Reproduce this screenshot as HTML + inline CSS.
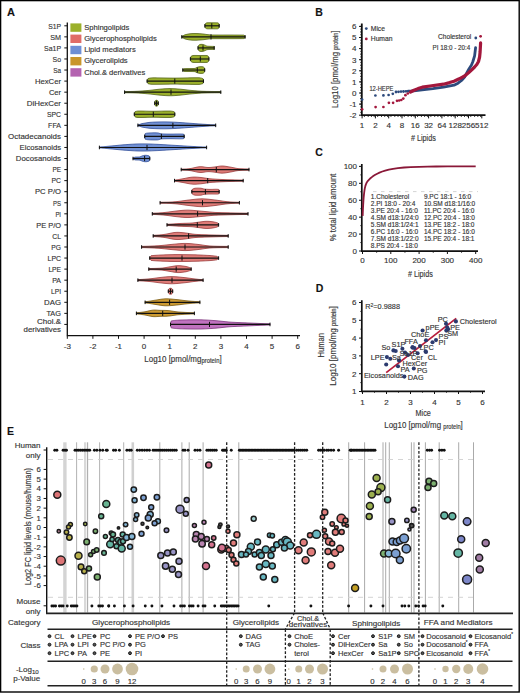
<!DOCTYPE html>
<html><head><meta charset="utf-8"><style>
html,body{margin:0;padding:0;background:#fff;}
svg{display:block;}
text{font-family:"Liberation Sans",sans-serif;stroke:#3a3a3a;stroke-width:0.15px;}
</style></head><body>
<svg width="520" height="693" viewBox="0 0 520 693">
<rect x="0" y="0" width="520" height="693" fill="#fff"/>
<text x="7.00" y="15.60" font-size="11" text-anchor="start" fill="#111" font-weight="bold" >A</text>
<text x="61.00" y="28.55" font-size="8" text-anchor="end" fill="#333"  textLength="12.799999999999999" lengthAdjust="spacingAndGlyphs">S1P</text>
<text x="61.00" y="39.61" font-size="8" text-anchor="end" fill="#333"  textLength="10.799999999999999" lengthAdjust="spacingAndGlyphs">SM</text>
<text x="61.00" y="50.67" font-size="8" text-anchor="end" fill="#333"  textLength="16.900000000000002" lengthAdjust="spacingAndGlyphs">Sa1P</text>
<text x="61.00" y="61.73" font-size="8" text-anchor="end" fill="#333"  textLength="8.5" lengthAdjust="spacingAndGlyphs">So</text>
<text x="61.00" y="72.79" font-size="8" text-anchor="end" fill="#333"  textLength="7.799999999999999" lengthAdjust="spacingAndGlyphs">Sa</text>
<text x="61.00" y="83.85" font-size="8" text-anchor="end" fill="#333"  textLength="26.1" lengthAdjust="spacingAndGlyphs">HexCer</text>
<text x="61.00" y="94.91" font-size="8" text-anchor="end" fill="#333"  textLength="12.1" lengthAdjust="spacingAndGlyphs">Cer</text>
<text x="61.00" y="105.97" font-size="8" text-anchor="end" fill="#333"  textLength="34.2" lengthAdjust="spacingAndGlyphs">DiHexCer</text>
<text x="61.00" y="117.03" font-size="8" text-anchor="end" fill="#333"  textLength="14.0" lengthAdjust="spacingAndGlyphs">SPC</text>
<text x="61.00" y="128.09" font-size="8" text-anchor="end" fill="#333"  textLength="12.9" lengthAdjust="spacingAndGlyphs">FFA</text>
<text x="61.00" y="139.15" font-size="8" text-anchor="end" fill="#333"  textLength="52.9" lengthAdjust="spacingAndGlyphs">Octadecanoids</text>
<text x="61.00" y="150.21" font-size="8" text-anchor="end" fill="#333"  textLength="41.4" lengthAdjust="spacingAndGlyphs">Eicosanoids</text>
<text x="61.00" y="161.27" font-size="8" text-anchor="end" fill="#333"  textLength="45.2" lengthAdjust="spacingAndGlyphs">Docosanoids</text>
<text x="61.00" y="172.33" font-size="8" text-anchor="end" fill="#333"  textLength="8.6" lengthAdjust="spacingAndGlyphs">PE</text>
<text x="61.00" y="183.39" font-size="8" text-anchor="end" fill="#333"  textLength="9.5" lengthAdjust="spacingAndGlyphs">PC</text>
<text x="61.00" y="194.45" font-size="8" text-anchor="end" fill="#333"  textLength="26.0" lengthAdjust="spacingAndGlyphs">PC P/O</text>
<text x="61.00" y="205.51" font-size="8" text-anchor="end" fill="#333"  textLength="8.0" lengthAdjust="spacingAndGlyphs">PS</text>
<text x="61.00" y="216.57" font-size="8" text-anchor="end" fill="#333"  textLength="5.6" lengthAdjust="spacingAndGlyphs">PI</text>
<text x="61.00" y="227.63" font-size="8" text-anchor="end" fill="#333"  textLength="24.700000000000003" lengthAdjust="spacingAndGlyphs">PE P/O</text>
<text x="61.00" y="238.69" font-size="8" text-anchor="end" fill="#333"  textLength="8.7" lengthAdjust="spacingAndGlyphs">CL</text>
<text x="61.00" y="249.75" font-size="8" text-anchor="end" fill="#333"  textLength="9.7" lengthAdjust="spacingAndGlyphs">PG</text>
<text x="61.00" y="260.81" font-size="8" text-anchor="end" fill="#333"  textLength="13.4" lengthAdjust="spacingAndGlyphs">LPC</text>
<text x="61.00" y="271.87" font-size="8" text-anchor="end" fill="#333"  textLength="12.6" lengthAdjust="spacingAndGlyphs">LPE</text>
<text x="61.00" y="282.93" font-size="8" text-anchor="end" fill="#333"  textLength="8.799999999999999" lengthAdjust="spacingAndGlyphs">PA</text>
<text x="61.00" y="293.99" font-size="8" text-anchor="end" fill="#333"  textLength="10.0" lengthAdjust="spacingAndGlyphs">LPI</text>
<text x="61.00" y="305.05" font-size="8" text-anchor="end" fill="#333"  textLength="16.900000000000002" lengthAdjust="spacingAndGlyphs">DAG</text>
<text x="61.00" y="316.11" font-size="8" text-anchor="end" fill="#333"  textLength="14.6" lengthAdjust="spacingAndGlyphs">TAG</text>
<text x="61.00" y="324.30" font-size="7.6" text-anchor="end" fill="#333"  textLength="24.0" lengthAdjust="spacingAndGlyphs">Chol.&amp;</text>
<text x="61.00" y="331.50" font-size="7.6" text-anchor="end" fill="#333"  textLength="37.4" lengthAdjust="spacingAndGlyphs">derivatives</text>
<path d="M67.3 22.5 V335.7 H300" fill="none" stroke="#111" stroke-width="1.3"/>
<line x1="64.3" y1="25.80" x2="67.3" y2="25.80" stroke="#111" stroke-width="1"/>
<line x1="64.3" y1="36.86" x2="67.3" y2="36.86" stroke="#111" stroke-width="1"/>
<line x1="64.3" y1="47.92" x2="67.3" y2="47.92" stroke="#111" stroke-width="1"/>
<line x1="64.3" y1="58.98" x2="67.3" y2="58.98" stroke="#111" stroke-width="1"/>
<line x1="64.3" y1="70.04" x2="67.3" y2="70.04" stroke="#111" stroke-width="1"/>
<line x1="64.3" y1="81.10" x2="67.3" y2="81.10" stroke="#111" stroke-width="1"/>
<line x1="64.3" y1="92.16" x2="67.3" y2="92.16" stroke="#111" stroke-width="1"/>
<line x1="64.3" y1="103.22" x2="67.3" y2="103.22" stroke="#111" stroke-width="1"/>
<line x1="64.3" y1="114.28" x2="67.3" y2="114.28" stroke="#111" stroke-width="1"/>
<line x1="64.3" y1="125.34" x2="67.3" y2="125.34" stroke="#111" stroke-width="1"/>
<line x1="64.3" y1="136.40" x2="67.3" y2="136.40" stroke="#111" stroke-width="1"/>
<line x1="64.3" y1="147.46" x2="67.3" y2="147.46" stroke="#111" stroke-width="1"/>
<line x1="64.3" y1="158.52" x2="67.3" y2="158.52" stroke="#111" stroke-width="1"/>
<line x1="64.3" y1="169.58" x2="67.3" y2="169.58" stroke="#111" stroke-width="1"/>
<line x1="64.3" y1="180.64" x2="67.3" y2="180.64" stroke="#111" stroke-width="1"/>
<line x1="64.3" y1="191.70" x2="67.3" y2="191.70" stroke="#111" stroke-width="1"/>
<line x1="64.3" y1="202.76" x2="67.3" y2="202.76" stroke="#111" stroke-width="1"/>
<line x1="64.3" y1="213.82" x2="67.3" y2="213.82" stroke="#111" stroke-width="1"/>
<line x1="64.3" y1="224.88" x2="67.3" y2="224.88" stroke="#111" stroke-width="1"/>
<line x1="64.3" y1="235.94" x2="67.3" y2="235.94" stroke="#111" stroke-width="1"/>
<line x1="64.3" y1="247.00" x2="67.3" y2="247.00" stroke="#111" stroke-width="1"/>
<line x1="64.3" y1="258.06" x2="67.3" y2="258.06" stroke="#111" stroke-width="1"/>
<line x1="64.3" y1="269.12" x2="67.3" y2="269.12" stroke="#111" stroke-width="1"/>
<line x1="64.3" y1="280.18" x2="67.3" y2="280.18" stroke="#111" stroke-width="1"/>
<line x1="64.3" y1="291.24" x2="67.3" y2="291.24" stroke="#111" stroke-width="1"/>
<line x1="64.3" y1="302.30" x2="67.3" y2="302.30" stroke="#111" stroke-width="1"/>
<line x1="64.3" y1="313.36" x2="67.3" y2="313.36" stroke="#111" stroke-width="1"/>
<line x1="64.3" y1="324.42" x2="67.3" y2="324.42" stroke="#111" stroke-width="1"/>
<line x1="67.30" y1="335.7" x2="67.30" y2="338.8" stroke="#111" stroke-width="1"/>
<text x="67.30" y="349.20" font-size="8" text-anchor="middle" fill="#333" >-3</text>
<line x1="92.90" y1="335.7" x2="92.90" y2="338.8" stroke="#111" stroke-width="1"/>
<text x="92.90" y="349.20" font-size="8" text-anchor="middle" fill="#333" >-2</text>
<line x1="118.50" y1="335.7" x2="118.50" y2="338.8" stroke="#111" stroke-width="1"/>
<text x="118.50" y="349.20" font-size="8" text-anchor="middle" fill="#333" >-1</text>
<line x1="144.10" y1="335.7" x2="144.10" y2="338.8" stroke="#111" stroke-width="1"/>
<text x="144.10" y="349.20" font-size="8" text-anchor="middle" fill="#333" >0</text>
<line x1="169.70" y1="335.7" x2="169.70" y2="338.8" stroke="#111" stroke-width="1"/>
<text x="169.70" y="349.20" font-size="8" text-anchor="middle" fill="#333" >1</text>
<line x1="195.30" y1="335.7" x2="195.30" y2="338.8" stroke="#111" stroke-width="1"/>
<text x="195.30" y="349.20" font-size="8" text-anchor="middle" fill="#333" >2</text>
<line x1="220.90" y1="335.7" x2="220.90" y2="338.8" stroke="#111" stroke-width="1"/>
<text x="220.90" y="349.20" font-size="8" text-anchor="middle" fill="#333" >3</text>
<line x1="246.50" y1="335.7" x2="246.50" y2="338.8" stroke="#111" stroke-width="1"/>
<text x="246.50" y="349.20" font-size="8" text-anchor="middle" fill="#333" >4</text>
<line x1="272.10" y1="335.7" x2="272.10" y2="338.8" stroke="#111" stroke-width="1"/>
<text x="272.10" y="349.20" font-size="8" text-anchor="middle" fill="#333" >5</text>
<line x1="297.70" y1="335.7" x2="297.70" y2="338.8" stroke="#111" stroke-width="1"/>
<text x="297.70" y="349.20" font-size="8" text-anchor="middle" fill="#333" >6</text>
<text x="144.3" y="361.5" font-size="8.5" fill="#333" textLength="77.4" lengthAdjust="spacingAndGlyphs">Log10 [pmol/mg<tspan font-size="6.3" dy="1.2">protein</tspan><tspan dy="-1.2">]</tspan></text>
<rect x="70.4" y="23.40" width="11" height="8.4" fill="#9bb02a"/>
<text x="84.20" y="29.70" font-size="7.6" text-anchor="start" fill="#333" >Sphingolipids</text>
<rect x="70.4" y="34.60" width="11" height="8.4" fill="#e06c68"/>
<text x="84.20" y="40.90" font-size="7.6" text-anchor="start" fill="#333" >Glycerophospholipids</text>
<rect x="70.4" y="45.80" width="11" height="8.4" fill="#6e8fd6"/>
<text x="84.20" y="52.10" font-size="7.6" text-anchor="start" fill="#333" >Lipid mediators</text>
<rect x="70.4" y="57.00" width="11" height="8.4" fill="#c9962c"/>
<text x="84.20" y="63.30" font-size="7.6" text-anchor="start" fill="#333" >Glycerolipids</text>
<rect x="70.4" y="68.20" width="11" height="8.4" fill="#b463b0"/>
<text x="84.20" y="74.50" font-size="7.6" text-anchor="start" fill="#333" >Chol.&amp; derivatives</text>
<polygon points="204.90,25.30 205.20,24.44 205.50,23.50 206.25,23.04 207.00,22.81 208.00,22.77 209.00,22.76 210.00,22.78 211.00,22.80 212.00,22.81 213.10,22.80 214.20,22.78 215.30,22.76 216.40,22.77 217.50,22.81 218.15,23.04 218.80,23.50 219.00,24.44 219.20,25.30 219.20,26.30 219.00,27.16 218.80,28.10 218.15,28.56 217.50,28.79 216.40,28.83 215.30,28.84 214.20,28.82 213.10,28.80 212.00,28.79 211.00,28.80 210.00,28.82 209.00,28.84 208.00,28.83 207.00,28.79 206.25,28.56 205.50,28.10 205.20,27.16 204.90,26.30" fill="#9bb02a" stroke="#55661a" stroke-width="0.8"/>
<line x1="204.9" y1="25.80" x2="219.2" y2="25.80" stroke="#111" stroke-width="1.15"/>
<line x1="204.9" y1="24.00" x2="204.9" y2="27.60" stroke="#111" stroke-width="1"/>
<line x1="219.2" y1="24.00" x2="219.2" y2="27.60" stroke="#111" stroke-width="1"/>
<line x1="211.8" y1="23.20" x2="211.8" y2="28.40" stroke="#111" stroke-width="1"/>
<polygon points="181.80,36.26 182.87,35.86 183.93,35.30 185.00,34.79 186.00,34.54 187.00,34.31 188.00,34.09 189.00,33.90 190.00,33.76 191.00,33.66 192.00,33.59 193.00,33.55 194.00,33.52 195.00,33.51 196.00,33.52 197.00,33.55 198.00,33.60 199.00,33.66 200.00,33.74 201.00,33.82 202.00,33.90 203.00,33.98 204.00,34.11 205.00,34.26 206.00,34.41 207.00,34.56 208.00,34.67 209.00,34.79 210.00,34.88 211.00,34.96 212.00,35.02 213.00,35.03 214.00,35.03 215.00,35.04 216.00,35.04 217.00,35.04 218.00,35.04 219.00,35.05 220.00,35.05 221.00,35.05 222.00,35.05 223.00,35.05 224.00,35.04 225.00,35.04 226.00,35.04 227.00,35.04 228.00,35.04 229.00,35.04 230.00,35.04 231.00,35.04 232.00,35.04 233.00,35.04 234.00,35.05 235.00,35.05 236.00,35.05 237.00,35.06 238.00,35.07 239.00,35.07 240.00,35.08 241.00,35.09 242.00,35.11 243.00,35.12 244.00,35.13 244.55,35.60 245.10,36.06 245.10,37.66 244.55,38.12 244.00,38.59 243.00,38.60 242.00,38.61 241.00,38.63 240.00,38.64 239.00,38.65 238.00,38.65 237.00,38.66 236.00,38.67 235.00,38.67 234.00,38.67 233.00,38.68 232.00,38.68 231.00,38.68 230.00,38.68 229.00,38.68 228.00,38.68 227.00,38.68 226.00,38.68 225.00,38.68 224.00,38.68 223.00,38.67 222.00,38.67 221.00,38.67 220.00,38.67 219.00,38.67 218.00,38.68 217.00,38.68 216.00,38.68 215.00,38.68 214.00,38.69 213.00,38.69 212.00,38.70 211.00,38.76 210.00,38.84 209.00,38.93 208.00,39.05 207.00,39.16 206.00,39.31 205.00,39.46 204.00,39.61 203.00,39.73 202.00,39.82 201.00,39.90 200.00,39.98 199.00,40.06 198.00,40.12 197.00,40.17 196.00,40.20 195.00,40.21 194.00,40.20 193.00,40.17 192.00,40.13 191.00,40.06 190.00,39.96 189.00,39.82 188.00,39.63 187.00,39.41 186.00,39.18 185.00,38.93 183.93,38.42 182.87,37.86 181.80,37.46" fill="#9bb02a" stroke="#55661a" stroke-width="0.8"/>
<line x1="181.8" y1="36.86" x2="245.1" y2="36.86" stroke="#111" stroke-width="1.15"/>
<line x1="181.8" y1="35.06" x2="181.8" y2="38.66" stroke="#111" stroke-width="1"/>
<line x1="245.1" y1="35.06" x2="245.1" y2="38.66" stroke="#111" stroke-width="1"/>
<line x1="211" y1="34.26" x2="211" y2="39.46" stroke="#111" stroke-width="1"/>
<polygon points="198.00,47.42 198.30,46.46 198.60,45.39 199.30,44.80 200.00,44.47 201.00,44.37 202.00,44.37 203.00,44.47 204.25,44.88 205.50,45.39 206.25,45.84 207.00,46.20 208.03,46.26 209.06,46.31 210.09,46.35 211.11,46.37 212.14,46.39 213.17,46.41 214.20,46.43 214.20,49.41 213.17,49.43 212.14,49.45 211.11,49.47 210.09,49.49 209.06,49.53 208.03,49.58 207.00,49.65 206.25,50.00 205.50,50.45 204.25,50.96 203.00,51.37 202.00,51.47 201.00,51.47 200.00,51.37 199.30,51.04 198.60,50.45 198.30,49.38 198.00,48.42" fill="#9bb02a" stroke="#55661a" stroke-width="0.8"/>
<line x1="198" y1="47.92" x2="214.2" y2="47.92" stroke="#111" stroke-width="1.15"/>
<line x1="198" y1="46.12" x2="198" y2="49.72" stroke="#111" stroke-width="1"/>
<line x1="214.2" y1="46.12" x2="214.2" y2="49.72" stroke="#111" stroke-width="1"/>
<line x1="203" y1="45.32" x2="203" y2="50.52" stroke="#111" stroke-width="1"/>
<polygon points="190.40,58.48 190.70,57.52 191.00,56.45 192.00,55.86 193.00,55.53 194.00,55.48 195.00,55.46 196.00,55.47 197.00,55.48 198.00,55.50 199.00,55.52 200.00,55.53 201.00,55.52 202.00,55.50 203.00,55.48 204.00,55.47 205.00,55.46 206.00,55.48 207.00,55.53 207.75,55.86 208.50,56.45 208.70,57.52 208.90,58.48 208.90,59.48 208.70,60.44 208.50,61.51 207.75,62.10 207.00,62.43 206.00,62.48 205.00,62.50 204.00,62.49 203.00,62.48 202.00,62.46 201.00,62.44 200.00,62.43 199.00,62.44 198.00,62.46 197.00,62.48 196.00,62.49 195.00,62.50 194.00,62.48 193.00,62.43 192.00,62.10 191.00,61.51 190.70,60.44 190.40,59.48" fill="#9bb02a" stroke="#55661a" stroke-width="0.8"/>
<line x1="190.4" y1="58.98" x2="208.9" y2="58.98" stroke="#111" stroke-width="1.15"/>
<line x1="190.4" y1="57.18" x2="190.4" y2="60.78" stroke="#111" stroke-width="1"/>
<line x1="208.9" y1="57.18" x2="208.9" y2="60.78" stroke="#111" stroke-width="1"/>
<line x1="200.3" y1="56.38" x2="200.3" y2="61.58" stroke="#111" stroke-width="1"/>
<polygon points="182.80,69.24 183.40,68.96 184.00,68.66 185.00,68.63 186.00,68.61 187.00,68.59 188.00,68.58 189.00,68.58 190.00,68.57 191.00,68.56 192.00,68.54 193.00,68.52 194.00,68.48 195.00,68.43 196.00,67.94 197.00,67.40 198.00,67.11 199.00,66.86 200.00,66.71 201.00,66.65 202.00,66.69 203.00,66.82 203.65,67.17 204.30,67.74 204.50,68.70 204.70,69.54 204.70,70.54 204.50,71.38 204.30,72.34 203.65,72.91 203.00,73.26 202.00,73.39 201.00,73.43 200.00,73.38 199.00,73.22 198.00,72.97 197.00,72.69 196.00,72.14 195.00,71.65 194.00,71.60 193.00,71.56 192.00,71.54 191.00,71.52 190.00,71.51 189.00,71.50 188.00,71.50 187.00,71.49 186.00,71.47 185.00,71.45 184.00,71.42 183.40,71.12 182.80,70.84" fill="#9bb02a" stroke="#55661a" stroke-width="0.8"/>
<line x1="182.8" y1="70.04" x2="204.7" y2="70.04" stroke="#111" stroke-width="1.15"/>
<line x1="182.8" y1="68.24" x2="182.8" y2="71.84" stroke="#111" stroke-width="1"/>
<line x1="204.7" y1="68.24" x2="204.7" y2="71.84" stroke="#111" stroke-width="1"/>
<line x1="197.3" y1="67.44" x2="197.3" y2="72.64" stroke="#111" stroke-width="1"/>
<polygon points="147.10,80.60 147.55,79.63 148.00,78.57 149.00,78.28 150.00,78.08 151.00,77.96 152.00,77.88 153.00,77.87 154.00,77.87 155.00,77.87 156.00,77.87 157.00,77.88 158.00,77.89 159.00,77.90 160.00,77.91 161.00,77.93 162.00,77.95 163.00,77.96 164.00,77.98 165.00,78.00 166.00,78.02 167.00,78.04 168.00,78.05 169.00,78.07 170.00,78.08 171.00,78.09 172.00,78.10 173.00,78.11 174.00,78.11 175.00,78.11 176.00,78.11 177.00,78.10 178.00,78.09 179.00,78.07 180.00,78.06 181.00,78.04 182.00,78.02 183.00,78.00 184.00,77.97 185.00,77.95 186.00,77.93 187.00,77.90 188.00,77.88 189.00,77.86 190.00,77.84 191.00,77.82 192.00,77.80 193.00,77.78 194.00,77.77 195.00,77.76 196.00,77.76 197.00,77.76 198.00,77.76 199.00,77.77 200.27,77.90 201.53,78.17 202.80,78.57 203.15,79.64 203.50,80.60 203.50,81.60 203.15,82.56 202.80,83.63 201.53,84.03 200.27,84.30 199.00,84.44 198.00,84.44 197.00,84.44 196.00,84.44 195.00,84.44 194.00,84.43 193.00,84.42 192.00,84.40 191.00,84.38 190.00,84.36 189.00,84.34 188.00,84.32 187.00,84.30 186.00,84.27 185.00,84.25 184.00,84.23 183.00,84.21 182.00,84.18 181.00,84.16 180.00,84.14 179.00,84.13 178.00,84.11 177.00,84.10 176.00,84.09 175.00,84.09 174.00,84.09 173.00,84.09 172.00,84.10 171.00,84.11 170.00,84.12 169.00,84.13 168.00,84.15 167.00,84.16 166.00,84.18 165.00,84.20 164.00,84.22 163.00,84.24 162.00,84.25 161.00,84.27 160.00,84.29 159.00,84.30 158.00,84.31 157.00,84.32 156.00,84.33 155.00,84.33 154.00,84.33 153.00,84.33 152.00,84.32 151.00,84.24 150.00,84.12 149.00,83.92 148.00,83.63 147.55,82.57 147.10,81.60" fill="#9bb02a" stroke="#55661a" stroke-width="0.8"/>
<line x1="147.1" y1="81.10" x2="203.5" y2="81.10" stroke="#111" stroke-width="1.15"/>
<line x1="147.1" y1="79.30" x2="147.1" y2="82.90" stroke="#111" stroke-width="1"/>
<line x1="203.5" y1="79.30" x2="203.5" y2="82.90" stroke="#111" stroke-width="1"/>
<line x1="174.8" y1="78.50" x2="174.8" y2="83.70" stroke="#111" stroke-width="1"/>
<polygon points="124.60,91.56 125.63,91.55 126.66,91.54 127.69,91.52 128.72,91.51 129.75,91.50 130.78,91.48 131.82,91.46 132.85,91.44 133.88,91.41 134.91,91.38 135.94,91.34 136.97,91.30 138.00,91.26 139.00,91.20 140.00,91.14 141.00,91.07 142.00,91.00 143.00,90.92 144.00,90.84 145.00,90.76 146.00,90.67 147.00,90.58 148.00,90.50 149.00,90.41 150.00,90.32 151.00,90.21 152.00,90.09 153.00,89.97 154.00,89.85 155.00,89.72 156.00,89.60 157.00,89.48 158.00,89.37 159.00,89.26 160.00,89.17 161.00,89.08 162.00,89.00 163.00,88.92 164.00,88.84 165.00,88.77 166.00,88.71 167.00,88.66 168.00,88.63 169.00,88.60 170.00,88.59 171.00,88.60 172.00,88.63 173.00,88.66 174.00,88.71 175.00,88.77 176.00,88.84 177.00,88.92 178.00,89.00 179.00,89.08 180.00,89.17 181.00,89.26 182.00,89.37 183.00,89.48 184.00,89.60 185.00,89.72 186.00,89.85 187.00,89.97 188.00,90.09 189.00,90.21 190.00,90.32 191.00,90.41 192.00,90.50 193.00,90.58 194.00,90.67 195.00,90.76 196.00,90.84 197.00,90.92 198.00,91.00 199.00,91.07 200.00,91.14 201.00,91.20 202.00,91.26 203.04,91.29 204.09,91.32 205.13,91.35 206.18,91.38 207.22,91.40 208.27,91.42 209.31,91.44 210.36,91.45 211.40,91.47 212.44,91.48 213.49,91.49 214.53,91.51 215.58,91.52 216.62,91.53 217.67,91.53 218.71,91.54 219.76,91.55 220.80,91.56 220.80,92.76 219.76,92.77 218.71,92.78 217.67,92.79 216.62,92.79 215.58,92.80 214.53,92.81 213.49,92.83 212.44,92.84 211.40,92.85 210.36,92.87 209.31,92.88 208.27,92.90 207.22,92.92 206.18,92.94 205.13,92.97 204.09,93.00 203.04,93.03 202.00,93.06 201.00,93.12 200.00,93.18 199.00,93.25 198.00,93.32 197.00,93.40 196.00,93.48 195.00,93.56 194.00,93.65 193.00,93.74 192.00,93.82 191.00,93.91 190.00,94.00 189.00,94.11 188.00,94.23 187.00,94.35 186.00,94.47 185.00,94.60 184.00,94.72 183.00,94.84 182.00,94.95 181.00,95.06 180.00,95.15 179.00,95.24 178.00,95.32 177.00,95.40 176.00,95.48 175.00,95.55 174.00,95.61 173.00,95.66 172.00,95.69 171.00,95.72 170.00,95.72 169.00,95.72 168.00,95.69 167.00,95.66 166.00,95.61 165.00,95.55 164.00,95.48 163.00,95.40 162.00,95.32 161.00,95.24 160.00,95.15 159.00,95.06 158.00,94.95 157.00,94.84 156.00,94.72 155.00,94.60 154.00,94.47 153.00,94.35 152.00,94.23 151.00,94.11 150.00,94.00 149.00,93.91 148.00,93.82 147.00,93.74 146.00,93.65 145.00,93.56 144.00,93.48 143.00,93.40 142.00,93.32 141.00,93.25 140.00,93.18 139.00,93.12 138.00,93.06 136.97,93.02 135.94,92.98 134.91,92.94 133.88,92.91 132.85,92.88 131.82,92.86 130.78,92.84 129.75,92.82 128.72,92.81 127.69,92.80 126.66,92.78 125.63,92.77 124.60,92.76" fill="#9bb02a" stroke="#55661a" stroke-width="0.8"/>
<line x1="124.6" y1="92.16" x2="220.8" y2="92.16" stroke="#111" stroke-width="1.15"/>
<line x1="124.6" y1="90.36" x2="124.6" y2="93.96" stroke="#111" stroke-width="1"/>
<line x1="220.8" y1="90.36" x2="220.8" y2="93.96" stroke="#111" stroke-width="1"/>
<line x1="171" y1="89.56" x2="171" y2="94.76" stroke="#111" stroke-width="1"/>
<polygon points="154.70,102.72 155.00,101.73 155.30,100.69 155.90,100.30 156.50,100.23 157.10,100.30 157.70,100.69 158.00,101.73 158.30,102.72 158.30,103.72 158.00,104.71 157.70,105.75 157.10,106.14 156.50,106.21 155.90,106.14 155.30,105.75 155.00,104.71 154.70,103.72" fill="#9bb02a" stroke="#55661a" stroke-width="0.8"/>
<line x1="154.7" y1="103.22" x2="158.3" y2="103.22" stroke="#111" stroke-width="1.15"/>
<line x1="154.7" y1="101.42" x2="154.7" y2="105.02" stroke="#111" stroke-width="1"/>
<line x1="158.3" y1="101.42" x2="158.3" y2="105.02" stroke="#111" stroke-width="1"/>
<line x1="156.5" y1="100.62" x2="156.5" y2="105.82" stroke="#111" stroke-width="1"/>
<polygon points="134.30,113.78 134.65,112.81 135.00,111.75 136.00,111.39 137.00,111.17 138.00,111.06 139.00,111.05 140.00,111.05 141.00,111.05 142.00,111.07 143.00,111.09 144.00,111.11 145.00,111.13 146.00,111.16 147.00,111.19 148.00,111.21 149.00,111.24 150.00,111.26 151.00,111.28 152.00,111.29 153.00,111.29 154.00,111.29 155.00,111.28 156.00,111.27 157.00,111.25 158.00,111.23 159.00,111.21 160.00,111.18 161.00,111.16 162.00,111.13 163.00,111.11 164.00,111.09 165.00,111.07 166.00,111.06 167.00,111.05 168.00,111.05 169.00,111.05 170.00,111.06 171.05,111.14 172.10,111.26 173.15,111.46 174.20,111.75 174.50,112.81 174.80,113.78 174.80,114.78 174.50,115.75 174.20,116.81 173.15,117.10 172.10,117.30 171.05,117.42 170.00,117.50 169.00,117.51 168.00,117.51 167.00,117.51 166.00,117.50 165.00,117.49 164.00,117.47 163.00,117.45 162.00,117.43 161.00,117.40 160.00,117.38 159.00,117.35 158.00,117.33 157.00,117.31 156.00,117.29 155.00,117.28 154.00,117.27 153.00,117.27 152.00,117.27 151.00,117.28 150.00,117.30 149.00,117.32 148.00,117.35 147.00,117.37 146.00,117.40 145.00,117.43 144.00,117.45 143.00,117.47 142.00,117.49 141.00,117.51 140.00,117.51 139.00,117.51 138.00,117.50 137.00,117.39 136.00,117.17 135.00,116.81 134.65,115.75 134.30,114.78" fill="#9bb02a" stroke="#55661a" stroke-width="0.8"/>
<line x1="134.3" y1="114.28" x2="174.8" y2="114.28" stroke="#111" stroke-width="1.15"/>
<line x1="134.3" y1="112.48" x2="134.3" y2="116.08" stroke="#111" stroke-width="1"/>
<line x1="174.8" y1="112.48" x2="174.8" y2="116.08" stroke="#111" stroke-width="1"/>
<line x1="153.3" y1="111.68" x2="153.3" y2="116.88" stroke="#111" stroke-width="1"/>
<polygon points="137.90,124.84 138.93,124.62 139.95,124.31 140.97,123.95 142.00,123.62 143.00,123.45 144.00,123.28 145.00,123.11 146.00,122.93 147.00,122.77 148.00,122.61 149.00,122.47 150.00,122.35 151.00,122.29 152.00,122.23 153.00,122.17 154.00,122.12 155.00,122.08 156.00,122.04 157.00,122.00 158.00,121.97 159.00,121.95 160.00,121.92 161.00,121.91 162.00,121.90 163.00,121.89 164.00,121.89 165.00,121.89 166.00,121.90 167.00,121.92 168.00,121.94 169.00,121.97 170.00,122.00 171.00,122.04 172.00,122.08 173.00,122.13 174.00,122.18 175.00,122.23 176.00,122.28 177.00,122.34 178.00,122.40 179.00,122.46 180.00,122.53 181.00,122.60 182.00,122.67 183.00,122.74 184.00,122.82 185.00,122.90 186.00,122.97 187.00,123.05 188.00,123.12 189.00,123.20 190.00,123.27 191.00,123.34 192.00,123.42 193.00,123.49 194.00,123.57 195.00,123.65 196.00,123.72 197.00,123.80 198.00,123.88 199.00,123.95 200.00,124.02 201.00,124.09 202.00,124.16 203.00,124.23 204.00,124.29 205.00,124.34 206.07,124.42 207.14,124.48 208.21,124.55 209.28,124.61 210.35,124.66 211.42,124.70 212.49,124.74 213.56,124.78 214.63,124.81 215.70,124.84 215.70,125.84 214.63,125.87 213.56,125.90 212.49,125.94 211.42,125.98 210.35,126.02 209.28,126.07 208.21,126.13 207.14,126.20 206.07,126.26 205.00,126.34 204.00,126.39 203.00,126.45 202.00,126.52 201.00,126.59 200.00,126.66 199.00,126.73 198.00,126.80 197.00,126.88 196.00,126.96 195.00,127.03 194.00,127.11 193.00,127.19 192.00,127.26 191.00,127.34 190.00,127.41 189.00,127.48 188.00,127.56 187.00,127.63 186.00,127.71 185.00,127.78 184.00,127.86 183.00,127.94 182.00,128.01 181.00,128.08 180.00,128.15 179.00,128.22 178.00,128.28 177.00,128.34 176.00,128.40 175.00,128.44 174.00,128.50 173.00,128.55 172.00,128.60 171.00,128.64 170.00,128.68 169.00,128.71 168.00,128.74 167.00,128.76 166.00,128.78 165.00,128.79 164.00,128.79 163.00,128.79 162.00,128.78 161.00,128.77 160.00,128.76 159.00,128.73 158.00,128.71 157.00,128.68 156.00,128.64 155.00,128.60 154.00,128.56 153.00,128.51 152.00,128.45 151.00,128.39 150.00,128.33 149.00,128.21 148.00,128.07 147.00,127.91 146.00,127.75 145.00,127.57 144.00,127.40 143.00,127.23 142.00,127.06 140.97,126.73 139.95,126.37 138.93,126.06 137.90,125.84" fill="#7090d4" stroke="#34509a" stroke-width="0.8"/>
<line x1="137.9" y1="125.34" x2="215.7" y2="125.34" stroke="#111" stroke-width="1.15"/>
<line x1="137.9" y1="123.54" x2="137.9" y2="127.14" stroke="#111" stroke-width="1"/>
<line x1="215.7" y1="123.54" x2="215.7" y2="127.14" stroke="#111" stroke-width="1"/>
<line x1="172.9" y1="122.74" x2="172.9" y2="127.94" stroke="#111" stroke-width="1"/>
<polygon points="144.70,135.90 145.00,134.75 145.30,133.53 146.48,133.24 147.65,133.09 148.82,133.01 150.00,132.95 151.00,132.92 152.00,132.89 153.00,132.87 154.00,132.86 155.00,132.86 156.00,132.87 157.00,132.90 158.00,132.95 159.00,133.21 160.00,133.58 161.00,133.87 162.00,133.93 163.00,133.97 164.00,134.01 165.00,134.03 166.00,134.05 167.00,134.07 168.00,134.08 169.00,134.09 170.00,134.10 171.04,134.10 172.08,134.09 173.12,134.08 174.15,134.06 175.19,134.03 176.23,134.01 177.27,133.99 178.31,133.98 179.35,133.97 180.38,133.98 181.42,134.00 182.46,134.04 183.50,134.10 183.85,135.00 184.20,135.90 184.20,136.90 183.85,137.80 183.50,138.70 182.46,138.76 181.42,138.80 180.38,138.82 179.35,138.83 178.31,138.82 177.27,138.81 176.23,138.79 175.19,138.77 174.15,138.74 173.12,138.72 172.08,138.71 171.04,138.70 170.00,138.70 169.00,138.71 168.00,138.72 167.00,138.73 166.00,138.75 165.00,138.77 164.00,138.79 163.00,138.83 162.00,138.87 161.00,138.93 160.00,139.22 159.00,139.59 158.00,139.85 157.00,139.90 156.00,139.93 155.00,139.94 154.00,139.94 153.00,139.93 152.00,139.91 151.00,139.88 150.00,139.85 148.82,139.79 147.65,139.71 146.48,139.56 145.30,139.28 145.00,138.05 144.70,136.90" fill="#7090d4" stroke="#34509a" stroke-width="0.8"/>
<line x1="144.7" y1="136.40" x2="184.2" y2="136.40" stroke="#111" stroke-width="1.15"/>
<line x1="144.7" y1="134.60" x2="144.7" y2="138.20" stroke="#111" stroke-width="1"/>
<line x1="184.2" y1="134.60" x2="184.2" y2="138.20" stroke="#111" stroke-width="1"/>
<line x1="161.4" y1="133.80" x2="161.4" y2="139.00" stroke="#111" stroke-width="1"/>
<polygon points="99.40,146.96 100.46,146.91 101.52,146.85 102.58,146.78 103.64,146.70 104.70,146.61 105.76,146.51 106.82,146.41 107.88,146.30 108.94,146.19 110.00,146.08 111.00,146.00 112.00,145.92 113.00,145.83 114.00,145.73 115.00,145.64 116.00,145.54 117.00,145.44 118.00,145.33 119.00,145.23 120.00,145.14 121.00,145.04 122.00,144.95 123.00,144.86 124.00,144.78 125.00,144.70 126.00,144.63 127.00,144.56 128.00,144.48 129.00,144.41 130.00,144.35 131.00,144.28 132.00,144.22 133.00,144.16 134.00,144.11 135.00,144.06 136.00,144.01 137.00,143.97 138.00,143.94 139.00,143.91 140.00,143.90 141.00,143.88 142.00,143.88 143.00,143.88 144.00,143.88 145.00,143.90 146.00,143.91 147.00,143.93 148.00,143.96 149.00,143.99 150.00,144.02 151.00,144.06 152.00,144.10 153.00,144.14 154.00,144.19 155.00,144.24 156.00,144.28 157.00,144.32 158.00,144.37 159.00,144.42 160.00,144.47 161.00,144.53 162.00,144.58 163.00,144.64 164.00,144.70 165.00,144.76 166.00,144.83 167.00,144.89 168.00,144.95 169.00,145.02 170.00,145.08 171.00,145.15 172.00,145.21 173.00,145.27 174.00,145.33 175.00,145.39 176.00,145.45 177.00,145.51 178.00,145.57 179.00,145.64 180.00,145.70 181.00,145.76 182.00,145.83 183.00,145.89 184.00,145.96 185.00,146.02 186.00,146.08 187.00,146.15 188.00,146.21 189.00,146.26 190.00,146.32 191.00,146.37 192.00,146.43 193.00,146.47 194.00,146.52 195.00,146.56 196.05,146.63 197.11,146.68 198.16,146.74 199.22,146.78 200.27,146.82 201.33,146.85 202.38,146.88 203.44,146.90 204.49,146.92 205.55,146.94 206.60,146.96 206.60,147.96 205.55,147.98 204.49,148.00 203.44,148.02 202.38,148.04 201.33,148.07 200.27,148.10 199.22,148.14 198.16,148.18 197.11,148.24 196.05,148.29 195.00,148.36 194.00,148.40 193.00,148.45 192.00,148.49 191.00,148.55 190.00,148.60 189.00,148.66 188.00,148.71 187.00,148.77 186.00,148.84 185.00,148.90 184.00,148.96 183.00,149.03 182.00,149.09 181.00,149.16 180.00,149.22 179.00,149.28 178.00,149.35 177.00,149.41 176.00,149.47 175.00,149.53 174.00,149.59 173.00,149.65 172.00,149.71 171.00,149.77 170.00,149.84 169.00,149.90 168.00,149.97 167.00,150.03 166.00,150.09 165.00,150.16 164.00,150.22 163.00,150.28 162.00,150.34 161.00,150.39 160.00,150.45 159.00,150.50 158.00,150.55 157.00,150.60 156.00,150.64 155.00,150.68 154.00,150.73 153.00,150.78 152.00,150.82 151.00,150.86 150.00,150.90 149.00,150.93 148.00,150.96 147.00,150.99 146.00,151.01 145.00,151.03 144.00,151.04 143.00,151.04 142.00,151.04 141.00,151.04 140.00,151.03 139.00,151.01 138.00,150.98 137.00,150.95 136.00,150.91 135.00,150.86 134.00,150.81 133.00,150.76 132.00,150.70 131.00,150.64 130.00,150.57 129.00,150.51 128.00,150.44 127.00,150.36 126.00,150.29 125.00,150.22 124.00,150.14 123.00,150.06 122.00,149.97 121.00,149.88 120.00,149.78 119.00,149.69 118.00,149.59 117.00,149.48 116.00,149.38 115.00,149.28 114.00,149.19 113.00,149.09 112.00,149.00 111.00,148.92 110.00,148.84 108.94,148.73 107.88,148.62 106.82,148.51 105.76,148.41 104.70,148.31 103.64,148.22 102.58,148.14 101.52,148.07 100.46,148.01 99.40,147.96" fill="#7090d4" stroke="#34509a" stroke-width="0.8"/>
<line x1="99.4" y1="147.46" x2="206.6" y2="147.46" stroke="#111" stroke-width="1.15"/>
<line x1="99.4" y1="145.66" x2="99.4" y2="149.26" stroke="#111" stroke-width="1"/>
<line x1="206.6" y1="145.66" x2="206.6" y2="149.26" stroke="#111" stroke-width="1"/>
<line x1="147" y1="144.86" x2="147" y2="150.06" stroke="#111" stroke-width="1"/>
<polygon points="133.00,158.02 134.00,157.59 135.00,157.14 136.00,157.07 137.00,157.05 138.00,157.04 139.00,157.00 140.00,156.91 141.25,156.35 142.50,155.76 143.67,155.51 144.83,155.34 146.00,155.30 147.07,155.40 148.13,155.62 149.20,155.99 149.50,157.05 149.80,158.02 149.80,159.02 149.50,159.99 149.20,161.05 148.13,161.42 147.07,161.64 146.00,161.74 144.83,161.70 143.67,161.53 142.50,161.28 141.25,160.69 140.00,160.13 139.00,160.04 138.00,160.00 137.00,159.99 136.00,159.97 135.00,159.90 134.00,159.45 133.00,159.02" fill="#7090d4" stroke="#34509a" stroke-width="0.8"/>
<line x1="133" y1="158.52" x2="149.8" y2="158.52" stroke="#111" stroke-width="1.15"/>
<line x1="133" y1="156.72" x2="133" y2="160.32" stroke="#111" stroke-width="1"/>
<line x1="149.8" y1="156.72" x2="149.8" y2="160.32" stroke="#111" stroke-width="1"/>
<line x1="144.6" y1="155.92" x2="144.6" y2="161.12" stroke="#111" stroke-width="1"/>
<polygon points="181.20,169.08 182.30,169.05 183.40,169.02 184.50,168.99 185.60,168.95 186.70,168.89 187.80,168.81 188.90,168.71 190.00,168.58 191.00,168.44 192.00,168.25 193.00,168.03 194.00,167.80 195.00,167.56 196.00,167.33 197.00,167.11 198.00,166.93 199.00,166.79 200.00,166.71 201.00,166.69 202.00,166.75 203.00,166.87 204.00,167.02 205.00,167.18 206.00,167.33 207.00,167.45 208.00,167.51 209.00,167.51 210.00,167.47 211.00,167.40 212.00,167.29 213.00,167.17 214.00,167.05 215.00,166.93 216.00,166.78 217.00,166.61 218.00,166.44 219.00,166.28 220.00,166.14 221.00,166.05 222.00,166.02 223.00,166.04 224.00,166.12 225.00,166.23 226.00,166.37 227.00,166.53 228.00,166.71 229.00,166.88 230.00,167.05 231.00,167.23 232.00,167.42 233.00,167.64 234.00,167.85 235.00,168.07 236.00,168.27 237.00,168.44 238.00,168.58 239.00,168.66 240.00,168.73 241.00,168.78 242.00,168.83 243.00,168.86 244.00,168.89 245.00,168.91 246.00,168.93 247.00,168.95 248.00,168.96 249.00,168.98 249.00,170.18 248.00,170.20 247.00,170.21 246.00,170.23 245.00,170.25 244.00,170.27 243.00,170.30 242.00,170.33 241.00,170.38 240.00,170.43 239.00,170.50 238.00,170.58 237.00,170.72 236.00,170.89 235.00,171.09 234.00,171.31 233.00,171.52 232.00,171.74 231.00,171.93 230.00,172.11 229.00,172.28 228.00,172.45 227.00,172.63 226.00,172.79 225.00,172.93 224.00,173.04 223.00,173.12 222.00,173.15 221.00,173.11 220.00,173.02 219.00,172.88 218.00,172.72 217.00,172.55 216.00,172.38 215.00,172.23 214.00,172.11 213.00,171.99 212.00,171.87 211.00,171.77 210.00,171.69 209.00,171.65 208.00,171.65 207.00,171.71 206.00,171.83 205.00,171.98 204.00,172.14 203.00,172.29 202.00,172.41 201.00,172.47 200.00,172.46 199.00,172.37 198.00,172.23 197.00,172.05 196.00,171.83 195.00,171.60 194.00,171.36 193.00,171.13 192.00,170.91 191.00,170.72 190.00,170.58 188.90,170.45 187.80,170.35 186.70,170.27 185.60,170.21 184.50,170.17 183.40,170.14 182.30,170.11 181.20,170.08" fill="#df7b77" stroke="#9a3c3c" stroke-width="0.8"/>
<line x1="181.2" y1="169.58" x2="249" y2="169.58" stroke="#111" stroke-width="1.15"/>
<line x1="181.2" y1="167.78" x2="181.2" y2="171.38" stroke="#111" stroke-width="1"/>
<line x1="249" y1="167.78" x2="249" y2="171.38" stroke="#111" stroke-width="1"/>
<line x1="216.3" y1="166.98" x2="216.3" y2="172.18" stroke="#111" stroke-width="1"/>
<polygon points="174.50,180.04 175.57,179.94 176.64,179.82 177.71,179.67 178.79,179.50 179.86,179.31 180.93,179.12 182.00,178.92 183.00,178.76 184.00,178.58 185.00,178.38 186.00,178.17 187.00,177.97 188.00,177.77 189.00,177.58 190.00,177.42 191.00,177.29 192.00,177.19 193.00,177.12 194.00,177.08 195.00,177.08 196.00,177.11 197.00,177.16 198.00,177.24 199.00,177.32 200.00,177.42 201.00,177.51 202.00,177.63 203.00,177.77 204.00,177.92 205.00,178.07 206.00,178.23 207.00,178.39 208.00,178.54 209.00,178.68 210.00,178.80 211.00,178.87 212.00,178.94 213.00,179.01 214.00,179.07 215.00,179.14 216.00,179.20 217.00,179.25 218.00,179.31 219.00,179.36 220.00,179.41 221.00,179.46 222.00,179.51 223.00,179.55 224.00,179.60 225.00,179.64 226.01,179.67 227.02,179.71 228.03,179.74 229.04,179.77 230.06,179.79 231.07,179.82 232.08,179.85 233.09,179.87 234.10,179.89 235.11,179.91 236.12,179.93 237.13,179.95 238.14,179.97 239.16,179.99 240.17,180.00 241.18,180.02 242.19,180.03 243.20,180.04 243.20,181.24 242.19,181.25 241.18,181.26 240.17,181.28 239.16,181.29 238.14,181.31 237.13,181.33 236.12,181.35 235.11,181.37 234.10,181.39 233.09,181.41 232.08,181.43 231.07,181.46 230.06,181.49 229.04,181.51 228.03,181.54 227.02,181.57 226.01,181.61 225.00,181.64 224.00,181.68 223.00,181.73 222.00,181.77 221.00,181.82 220.00,181.87 219.00,181.92 218.00,181.97 217.00,182.03 216.00,182.08 215.00,182.14 214.00,182.21 213.00,182.27 212.00,182.34 211.00,182.41 210.00,182.48 209.00,182.60 208.00,182.74 207.00,182.89 206.00,183.05 205.00,183.21 204.00,183.36 203.00,183.51 202.00,183.65 201.00,183.77 200.00,183.86 199.00,183.96 198.00,184.04 197.00,184.12 196.00,184.17 195.00,184.20 194.00,184.20 193.00,184.16 192.00,184.09 191.00,183.99 190.00,183.86 189.00,183.70 188.00,183.51 187.00,183.31 186.00,183.11 185.00,182.90 184.00,182.70 183.00,182.52 182.00,182.37 180.93,182.16 179.86,181.97 178.79,181.78 177.71,181.61 176.64,181.46 175.57,181.34 174.50,181.24" fill="#df7b77" stroke="#9a3c3c" stroke-width="0.8"/>
<line x1="174.5" y1="180.64" x2="243.2" y2="180.64" stroke="#111" stroke-width="1.15"/>
<line x1="174.5" y1="178.84" x2="174.5" y2="182.44" stroke="#111" stroke-width="1"/>
<line x1="243.2" y1="178.84" x2="243.2" y2="182.44" stroke="#111" stroke-width="1"/>
<line x1="207.7" y1="178.04" x2="207.7" y2="183.24" stroke="#111" stroke-width="1"/>
<polygon points="191.80,191.20 192.15,190.24 192.50,189.17 193.75,188.58 195.00,188.25 196.00,188.19 197.00,188.15 198.00,188.14 199.00,188.16 200.00,188.19 201.00,188.25 202.00,188.48 203.00,188.79 204.00,189.06 205.00,189.14 206.00,189.22 207.00,189.28 208.00,189.33 209.00,189.37 210.00,189.40 211.07,189.40 212.15,189.38 213.22,189.35 214.30,189.31 215.38,189.28 216.45,189.28 217.53,189.32 218.60,189.40 218.90,190.30 219.20,191.20 219.20,192.20 218.90,193.10 218.60,194.00 217.53,194.08 216.45,194.12 215.38,194.12 214.30,194.09 213.22,194.05 212.15,194.02 211.07,194.00 210.00,194.00 209.00,194.03 208.00,194.07 207.00,194.12 206.00,194.18 205.00,194.26 204.00,194.35 203.00,194.61 202.00,194.92 201.00,195.15 200.00,195.21 199.00,195.24 198.00,195.26 197.00,195.25 196.00,195.21 195.00,195.15 193.75,194.82 192.50,194.23 192.15,193.16 191.80,192.20" fill="#df7b77" stroke="#9a3c3c" stroke-width="0.8"/>
<line x1="191.8" y1="191.70" x2="219.2" y2="191.70" stroke="#111" stroke-width="1.15"/>
<line x1="191.8" y1="189.90" x2="191.8" y2="193.50" stroke="#111" stroke-width="1"/>
<line x1="219.2" y1="189.90" x2="219.2" y2="193.50" stroke="#111" stroke-width="1"/>
<line x1="205.4" y1="189.10" x2="205.4" y2="194.30" stroke="#111" stroke-width="1"/>
<polygon points="160.10,202.26 161.16,202.24 162.23,202.23 163.29,202.21 164.36,202.19 165.42,202.17 166.49,202.15 167.55,202.13 168.61,202.10 169.68,202.06 170.74,202.02 171.81,201.97 172.87,201.91 173.94,201.84 175.00,201.76 176.00,201.67 177.00,201.57 178.00,201.46 179.00,201.34 180.00,201.21 181.00,201.07 182.00,200.93 183.00,200.78 184.00,200.64 185.00,200.50 186.00,200.36 187.00,200.23 188.00,200.10 189.00,199.99 190.00,199.89 191.00,199.76 192.00,199.64 193.00,199.52 194.00,199.40 195.00,199.29 196.00,199.19 197.00,199.09 198.00,199.01 199.00,198.94 200.00,198.89 201.00,198.86 202.00,198.85 203.00,198.86 204.00,198.89 205.00,198.94 206.00,199.01 207.00,199.09 208.00,199.19 209.00,199.29 210.00,199.40 211.00,199.52 212.00,199.64 213.00,199.76 214.00,199.89 215.00,200.00 216.00,200.12 217.00,200.26 218.00,200.40 219.00,200.55 220.00,200.70 221.00,200.86 222.00,201.01 223.00,201.16 224.00,201.30 225.00,201.43 226.00,201.56 227.00,201.67 228.00,201.76 229.04,201.86 230.07,201.94 231.11,202.01 232.15,202.06 233.18,202.11 234.22,202.14 235.25,202.17 236.29,202.20 237.33,202.22 238.36,202.24 239.40,202.26 239.40,203.26 238.36,203.28 237.33,203.30 236.29,203.32 235.25,203.35 234.22,203.38 233.18,203.41 232.15,203.46 231.11,203.51 230.07,203.58 229.04,203.66 228.00,203.76 227.00,203.85 226.00,203.96 225.00,204.09 224.00,204.22 223.00,204.36 222.00,204.51 221.00,204.66 220.00,204.82 219.00,204.97 218.00,205.12 217.00,205.26 216.00,205.40 215.00,205.52 214.00,205.64 213.00,205.76 212.00,205.88 211.00,206.00 210.00,206.12 209.00,206.23 208.00,206.33 207.00,206.43 206.00,206.51 205.00,206.58 204.00,206.63 203.00,206.66 202.00,206.67 201.00,206.66 200.00,206.63 199.00,206.58 198.00,206.51 197.00,206.43 196.00,206.33 195.00,206.23 194.00,206.12 193.00,206.00 192.00,205.88 191.00,205.76 190.00,205.64 189.00,205.53 188.00,205.42 187.00,205.29 186.00,205.16 185.00,205.02 184.00,204.88 183.00,204.74 182.00,204.59 181.00,204.45 180.00,204.31 179.00,204.18 178.00,204.06 177.00,203.95 176.00,203.85 175.00,203.76 173.94,203.68 172.87,203.61 171.81,203.55 170.74,203.50 169.68,203.46 168.61,203.42 167.55,203.39 166.49,203.37 165.42,203.35 164.36,203.33 163.29,203.31 162.23,203.29 161.16,203.28 160.10,203.26" fill="#df7b77" stroke="#9a3c3c" stroke-width="0.8"/>
<line x1="160.1" y1="202.76" x2="239.4" y2="202.76" stroke="#111" stroke-width="1.15"/>
<line x1="160.1" y1="200.96" x2="160.1" y2="204.56" stroke="#111" stroke-width="1"/>
<line x1="239.4" y1="200.96" x2="239.4" y2="204.56" stroke="#111" stroke-width="1"/>
<line x1="202.5" y1="200.16" x2="202.5" y2="205.36" stroke="#111" stroke-width="1"/>
<polygon points="152.30,213.22 153.36,213.18 154.42,213.14 155.48,213.10 156.53,213.05 157.59,212.99 158.65,212.93 159.71,212.86 160.77,212.79 161.82,212.71 162.88,212.63 163.94,212.54 165.00,212.44 166.00,212.34 167.00,212.23 168.00,212.11 169.00,211.98 170.00,211.84 171.00,211.70 172.00,211.56 173.00,211.42 174.00,211.28 175.00,211.16 176.00,211.04 177.00,210.93 178.00,210.83 179.00,210.72 180.00,210.61 181.00,210.50 182.00,210.41 183.00,210.33 184.00,210.26 185.00,210.20 186.00,210.16 187.00,210.14 188.00,210.14 189.00,210.16 190.00,210.19 191.00,210.25 192.00,210.31 193.00,210.39 194.00,210.47 195.00,210.56 196.00,210.66 197.00,210.76 198.00,210.86 199.00,210.96 200.00,211.06 201.00,211.14 202.00,211.23 203.00,211.32 204.00,211.41 205.00,211.51 206.00,211.61 207.00,211.71 208.00,211.81 209.00,211.91 210.00,212.01 211.00,212.10 212.00,212.20 213.00,212.28 214.00,212.36 215.00,212.44 216.00,212.47 217.00,212.50 218.00,212.54 219.00,212.57 220.00,212.60 221.00,212.63 222.00,212.66 223.00,212.69 224.00,212.72 225.00,212.75 226.00,212.77 227.00,212.80 228.00,212.83 229.00,212.85 230.00,212.88 231.00,212.90 232.00,212.93 233.00,212.95 234.00,212.98 235.00,213.00 236.00,213.02 237.00,213.04 238.00,213.06 239.00,213.08 240.00,213.10 241.00,213.12 242.00,213.13 243.00,213.15 244.00,213.17 245.00,213.18 246.00,213.19 247.00,213.21 248.00,213.22 248.00,214.42 247.00,214.43 246.00,214.45 245.00,214.46 244.00,214.47 243.00,214.49 242.00,214.51 241.00,214.52 240.00,214.54 239.00,214.56 238.00,214.58 237.00,214.60 236.00,214.62 235.00,214.64 234.00,214.66 233.00,214.69 232.00,214.71 231.00,214.74 230.00,214.76 229.00,214.79 228.00,214.81 227.00,214.84 226.00,214.87 225.00,214.89 224.00,214.92 223.00,214.95 222.00,214.98 221.00,215.01 220.00,215.04 219.00,215.07 218.00,215.10 217.00,215.14 216.00,215.17 215.00,215.20 214.00,215.28 213.00,215.36 212.00,215.44 211.00,215.54 210.00,215.63 209.00,215.73 208.00,215.83 207.00,215.93 206.00,216.03 205.00,216.13 204.00,216.23 203.00,216.32 202.00,216.41 201.00,216.50 200.00,216.58 199.00,216.68 198.00,216.78 197.00,216.88 196.00,216.98 195.00,217.08 194.00,217.17 193.00,217.25 192.00,217.33 191.00,217.39 190.00,217.45 189.00,217.48 188.00,217.50 187.00,217.50 186.00,217.48 185.00,217.44 184.00,217.38 183.00,217.31 182.00,217.23 181.00,217.14 180.00,217.03 179.00,216.92 178.00,216.81 177.00,216.71 176.00,216.60 175.00,216.48 174.00,216.36 173.00,216.22 172.00,216.08 171.00,215.94 170.00,215.80 169.00,215.66 168.00,215.53 167.00,215.41 166.00,215.30 165.00,215.20 163.94,215.10 162.88,215.01 161.82,214.93 160.77,214.85 159.71,214.78 158.65,214.71 157.59,214.65 156.53,214.59 155.48,214.54 154.42,214.50 153.36,214.46 152.30,214.42" fill="#df7b77" stroke="#9a3c3c" stroke-width="0.8"/>
<line x1="152.3" y1="213.82" x2="248" y2="213.82" stroke="#111" stroke-width="1.15"/>
<line x1="152.3" y1="212.02" x2="152.3" y2="215.62" stroke="#111" stroke-width="1"/>
<line x1="248" y1="212.02" x2="248" y2="215.62" stroke="#111" stroke-width="1"/>
<line x1="197.6" y1="211.22" x2="197.6" y2="216.42" stroke="#111" stroke-width="1"/>
<polygon points="167.00,224.28 168.00,224.24 169.00,224.20 170.00,224.15 171.00,224.09 172.00,224.02 173.00,223.95 174.00,223.88 175.00,223.81 176.00,223.74 177.00,223.67 178.00,223.61 179.00,223.55 180.00,223.50 181.00,223.45 182.00,223.41 183.00,223.38 184.00,223.34 185.00,223.31 186.00,223.29 187.00,223.26 188.00,223.22 189.00,223.19 190.00,223.15 191.00,223.10 192.00,223.04 193.00,222.94 194.00,222.81 195.00,222.68 196.00,222.54 197.00,222.39 198.00,222.25 199.00,222.12 200.00,222.01 201.00,221.86 202.00,221.71 203.00,221.57 204.00,221.46 205.00,221.37 206.00,221.32 207.00,221.30 208.00,221.32 209.00,221.37 210.00,221.45 211.00,221.54 212.00,221.66 213.10,221.83 214.20,222.04 215.30,222.28 216.40,222.54 217.50,222.81 218.05,223.67 218.60,224.38 218.60,225.38 218.05,226.09 217.50,226.95 216.40,227.22 215.30,227.48 214.20,227.72 213.10,227.93 212.00,228.10 211.00,228.22 210.00,228.31 209.00,228.39 208.00,228.44 207.00,228.46 206.00,228.45 205.00,228.39 204.00,228.30 203.00,228.19 202.00,228.05 201.00,227.90 200.00,227.76 199.00,227.64 198.00,227.51 197.00,227.37 196.00,227.22 195.00,227.08 194.00,226.95 193.00,226.82 192.00,226.72 191.00,226.66 190.00,226.61 189.00,226.57 188.00,226.54 187.00,226.50 186.00,226.47 185.00,226.45 184.00,226.42 183.00,226.38 182.00,226.35 181.00,226.31 180.00,226.26 179.00,226.21 178.00,226.15 177.00,226.09 176.00,226.02 175.00,225.95 174.00,225.88 173.00,225.81 172.00,225.74 171.00,225.67 170.00,225.61 169.00,225.56 168.00,225.52 167.00,225.48" fill="#df7b77" stroke="#9a3c3c" stroke-width="0.8"/>
<line x1="167" y1="224.88" x2="218.6" y2="224.88" stroke="#111" stroke-width="1.15"/>
<line x1="167" y1="223.08" x2="167" y2="226.68" stroke="#111" stroke-width="1"/>
<line x1="218.6" y1="223.08" x2="218.6" y2="226.68" stroke="#111" stroke-width="1"/>
<line x1="197.3" y1="222.28" x2="197.3" y2="227.48" stroke="#111" stroke-width="1"/>
<polygon points="153.20,235.34 154.27,235.29 155.35,235.23 156.42,235.16 157.49,235.08 158.56,235.00 159.64,234.90 160.71,234.80 161.78,234.69 162.85,234.58 163.93,234.46 165.00,234.33 166.00,234.17 167.00,233.98 168.00,233.77 169.00,233.55 170.00,233.33 171.00,233.12 172.00,232.92 173.00,232.74 174.00,232.59 175.00,232.49 176.00,232.41 177.00,232.37 178.00,232.36 179.00,232.39 180.00,232.44 181.00,232.52 182.00,232.61 183.00,232.72 184.00,232.81 185.00,232.92 186.00,233.05 187.00,233.19 188.00,233.34 189.00,233.50 190.00,233.66 191.00,233.82 192.00,233.97 193.00,234.10 194.00,234.23 195.00,234.33 196.00,234.40 197.00,234.46 198.00,234.52 199.00,234.57 200.00,234.62 201.00,234.66 202.00,234.69 203.00,234.73 204.00,234.76 205.00,234.79 206.00,234.82 207.00,234.85 208.00,234.88 209.00,234.91 210.00,234.94 211.01,234.97 212.02,235.00 213.03,235.02 214.04,235.05 215.06,235.08 216.07,235.10 217.08,235.13 218.09,235.15 219.10,235.18 220.11,235.20 221.12,235.22 222.13,235.24 223.14,235.26 224.16,235.28 225.17,235.30 226.18,235.31 227.19,235.33 228.20,235.34 228.20,236.54 227.19,236.55 226.18,236.57 225.17,236.58 224.16,236.60 223.14,236.62 222.13,236.64 221.12,236.66 220.11,236.68 219.10,236.70 218.09,236.73 217.08,236.75 216.07,236.78 215.06,236.80 214.04,236.83 213.03,236.86 212.02,236.88 211.01,236.91 210.00,236.94 209.00,236.97 208.00,237.00 207.00,237.03 206.00,237.06 205.00,237.09 204.00,237.12 203.00,237.15 202.00,237.19 201.00,237.22 200.00,237.26 199.00,237.31 198.00,237.36 197.00,237.42 196.00,237.48 195.00,237.55 194.00,237.65 193.00,237.78 192.00,237.91 191.00,238.06 190.00,238.22 189.00,238.38 188.00,238.54 187.00,238.69 186.00,238.83 185.00,238.96 184.00,239.07 183.00,239.16 182.00,239.27 181.00,239.36 180.00,239.44 179.00,239.49 178.00,239.52 177.00,239.51 176.00,239.47 175.00,239.39 174.00,239.29 173.00,239.14 172.00,238.96 171.00,238.76 170.00,238.55 169.00,238.33 168.00,238.11 167.00,237.90 166.00,237.71 165.00,237.55 163.93,237.42 162.85,237.30 161.78,237.19 160.71,237.08 159.64,236.98 158.56,236.88 157.49,236.80 156.42,236.72 155.35,236.65 154.27,236.59 153.20,236.54" fill="#df7b77" stroke="#9a3c3c" stroke-width="0.8"/>
<line x1="153.2" y1="235.94" x2="228.2" y2="235.94" stroke="#111" stroke-width="1.15"/>
<line x1="153.2" y1="234.14" x2="153.2" y2="237.74" stroke="#111" stroke-width="1"/>
<line x1="228.2" y1="234.14" x2="228.2" y2="237.74" stroke="#111" stroke-width="1"/>
<line x1="188.6" y1="233.34" x2="188.6" y2="238.54" stroke="#111" stroke-width="1"/>
<polygon points="141.60,246.40 142.62,246.38 143.64,246.35 144.67,246.32 145.69,246.29 146.71,246.26 147.73,246.22 148.76,246.19 149.78,246.15 150.80,246.10 151.82,246.06 152.84,246.01 153.87,245.96 154.89,245.91 155.91,245.86 156.93,245.80 157.96,245.74 158.98,245.68 160.00,245.62 161.00,245.54 162.00,245.45 163.00,245.35 164.00,245.25 165.00,245.14 166.00,245.03 167.00,244.92 168.00,244.81 169.00,244.70 170.00,244.59 171.00,244.48 172.00,244.38 173.00,244.29 174.00,244.20 175.00,244.13 176.00,244.02 177.00,243.91 178.00,243.82 179.00,243.72 180.00,243.64 181.00,243.57 182.00,243.52 183.00,243.47 184.00,243.44 185.00,243.44 186.00,243.44 187.00,243.47 188.00,243.50 189.00,243.55 190.00,243.62 191.00,243.70 192.00,243.79 193.00,243.89 194.00,244.00 195.00,244.13 196.00,244.22 197.00,244.33 198.00,244.45 199.00,244.58 200.00,244.72 201.00,244.86 202.00,245.01 203.00,245.15 204.00,245.30 205.00,245.44 206.00,245.57 207.00,245.70 208.00,245.81 209.00,245.92 210.00,246.00 211.01,246.06 212.02,246.11 213.03,246.16 214.04,246.20 215.06,246.23 216.07,246.26 217.08,246.28 218.09,246.30 219.10,246.32 220.11,246.33 221.12,246.34 222.13,246.35 223.14,246.36 224.16,246.37 225.17,246.37 226.18,246.38 227.19,246.39 228.20,246.40 228.20,247.60 227.19,247.61 226.18,247.62 225.17,247.63 224.16,247.63 223.14,247.64 222.13,247.65 221.12,247.66 220.11,247.67 219.10,247.68 218.09,247.70 217.08,247.72 216.07,247.74 215.06,247.77 214.04,247.80 213.03,247.84 212.02,247.89 211.01,247.94 210.00,248.00 209.00,248.08 208.00,248.19 207.00,248.30 206.00,248.43 205.00,248.56 204.00,248.70 203.00,248.85 202.00,248.99 201.00,249.14 200.00,249.28 199.00,249.42 198.00,249.55 197.00,249.67 196.00,249.78 195.00,249.88 194.00,250.00 193.00,250.11 192.00,250.21 191.00,250.30 190.00,250.38 189.00,250.45 188.00,250.50 187.00,250.53 186.00,250.56 185.00,250.57 184.00,250.56 183.00,250.53 182.00,250.48 181.00,250.43 180.00,250.36 179.00,250.28 178.00,250.18 177.00,250.09 176.00,249.98 175.00,249.88 174.00,249.80 173.00,249.71 172.00,249.62 171.00,249.52 170.00,249.41 169.00,249.30 168.00,249.19 167.00,249.08 166.00,248.97 165.00,248.86 164.00,248.75 163.00,248.65 162.00,248.55 161.00,248.46 160.00,248.38 158.98,248.32 157.96,248.26 156.93,248.20 155.91,248.14 154.89,248.09 153.87,248.04 152.84,247.99 151.82,247.94 150.80,247.90 149.78,247.85 148.76,247.81 147.73,247.78 146.71,247.74 145.69,247.71 144.67,247.68 143.64,247.65 142.62,247.62 141.60,247.60" fill="#df7b77" stroke="#9a3c3c" stroke-width="0.8"/>
<line x1="141.6" y1="247.00" x2="228.2" y2="247.00" stroke="#111" stroke-width="1.15"/>
<line x1="141.6" y1="245.20" x2="141.6" y2="248.80" stroke="#111" stroke-width="1"/>
<line x1="228.2" y1="245.20" x2="228.2" y2="248.80" stroke="#111" stroke-width="1"/>
<line x1="185" y1="244.40" x2="185" y2="249.60" stroke="#111" stroke-width="1"/>
<polygon points="149.70,257.56 150.35,256.70 151.00,255.76 152.00,255.63 153.00,255.53 154.00,255.44 155.00,255.36 156.00,255.30 157.00,255.24 158.00,255.19 159.00,255.13 160.00,255.07 161.00,255.03 162.00,254.99 163.00,254.95 164.00,254.91 165.00,254.87 166.00,254.84 167.00,254.80 168.00,254.77 169.00,254.73 170.00,254.70 171.00,254.68 172.00,254.65 173.00,254.64 174.00,254.62 175.00,254.61 176.00,254.61 177.00,254.60 178.00,254.60 179.00,254.60 180.00,254.61 181.00,254.61 182.00,254.62 183.00,254.63 184.00,254.64 185.00,254.65 186.00,254.67 187.00,254.68 188.00,254.70 189.00,254.72 190.00,254.73 191.00,254.75 192.00,254.77 193.00,254.80 194.00,254.82 195.00,254.84 196.00,254.87 197.00,254.91 198.00,254.95 199.00,254.99 200.00,255.03 201.00,255.08 202.00,255.12 203.00,255.17 204.00,255.22 205.00,255.27 206.00,255.33 207.00,255.38 208.00,255.43 209.00,255.48 210.00,255.53 211.00,255.64 212.00,255.74 213.00,255.84 214.00,255.95 215.00,256.07 216.00,256.20 217.00,256.33 217.80,257.00 218.60,257.56 218.60,258.56 217.80,259.12 217.00,259.79 216.00,259.92 215.00,260.05 214.00,260.17 213.00,260.28 212.00,260.38 211.00,260.48 210.00,260.59 209.00,260.64 208.00,260.69 207.00,260.74 206.00,260.79 205.00,260.85 204.00,260.90 203.00,260.95 202.00,261.00 201.00,261.04 200.00,261.09 199.00,261.13 198.00,261.17 197.00,261.21 196.00,261.25 195.00,261.28 194.00,261.30 193.00,261.32 192.00,261.35 191.00,261.37 190.00,261.39 189.00,261.40 188.00,261.42 187.00,261.44 186.00,261.45 185.00,261.47 184.00,261.48 183.00,261.49 182.00,261.50 181.00,261.51 180.00,261.51 179.00,261.52 178.00,261.52 177.00,261.52 176.00,261.51 175.00,261.51 174.00,261.50 173.00,261.48 172.00,261.47 171.00,261.44 170.00,261.42 169.00,261.39 168.00,261.35 167.00,261.32 166.00,261.28 165.00,261.25 164.00,261.21 163.00,261.17 162.00,261.13 161.00,261.09 160.00,261.05 159.00,260.99 158.00,260.93 157.00,260.88 156.00,260.82 155.00,260.76 154.00,260.68 153.00,260.59 152.00,260.49 151.00,260.36 150.35,259.42 149.70,258.56" fill="#df7b77" stroke="#9a3c3c" stroke-width="0.8"/>
<line x1="149.7" y1="258.06" x2="218.6" y2="258.06" stroke="#111" stroke-width="1.15"/>
<line x1="149.7" y1="256.26" x2="149.7" y2="259.86" stroke="#111" stroke-width="1"/>
<line x1="218.6" y1="256.26" x2="218.6" y2="259.86" stroke="#111" stroke-width="1"/>
<line x1="182" y1="255.46" x2="182" y2="260.66" stroke="#111" stroke-width="1"/>
<polygon points="148.80,268.52 149.82,268.50 150.83,268.49 151.85,268.47 152.86,268.46 153.88,268.44 154.89,268.41 155.91,268.39 156.92,268.36 157.94,268.32 158.95,268.28 159.97,268.24 160.98,268.18 162.00,268.12 163.00,268.00 164.00,267.85 165.00,267.69 166.00,267.52 167.00,267.34 168.00,267.16 169.00,266.98 170.00,266.82 171.00,266.66 172.00,266.48 173.00,266.29 174.00,266.11 175.00,265.95 176.00,265.82 177.00,265.72 178.00,265.67 179.00,265.67 180.00,265.72 181.00,265.81 182.00,265.92 183.00,266.05 184.00,266.20 185.00,266.34 186.00,266.48 187.12,266.77 188.25,267.10 189.38,267.44 190.50,267.74 190.85,268.26 191.20,268.62 191.20,269.62 190.85,269.98 190.50,270.50 189.38,270.80 188.25,271.14 187.12,271.47 186.00,271.76 185.00,271.90 184.00,272.04 183.00,272.19 182.00,272.32 181.00,272.43 180.00,272.52 179.00,272.57 178.00,272.57 177.00,272.52 176.00,272.42 175.00,272.29 174.00,272.13 173.00,271.95 172.00,271.76 171.00,271.58 170.00,271.42 169.00,271.26 168.00,271.08 167.00,270.90 166.00,270.72 165.00,270.55 164.00,270.39 163.00,270.24 162.00,270.12 160.98,270.06 159.97,270.00 158.95,269.96 157.94,269.92 156.92,269.88 155.91,269.85 154.89,269.83 153.88,269.80 152.86,269.78 151.85,269.77 150.83,269.75 149.82,269.74 148.80,269.72" fill="#df7b77" stroke="#9a3c3c" stroke-width="0.8"/>
<line x1="148.8" y1="269.12" x2="191.2" y2="269.12" stroke="#111" stroke-width="1.15"/>
<line x1="148.8" y1="267.32" x2="148.8" y2="270.92" stroke="#111" stroke-width="1"/>
<line x1="191.2" y1="267.32" x2="191.2" y2="270.92" stroke="#111" stroke-width="1"/>
<line x1="176.2" y1="266.52" x2="176.2" y2="271.72" stroke="#111" stroke-width="1"/>
<polygon points="137.90,279.58 138.91,279.54 139.92,279.50 140.93,279.46 141.93,279.40 142.94,279.35 143.95,279.28 144.96,279.22 145.97,279.14 146.97,279.06 147.98,278.98 148.99,278.89 150.00,278.80 151.00,278.70 152.00,278.58 153.00,278.46 154.00,278.32 155.00,278.19 156.00,278.05 157.00,277.91 158.00,277.77 159.00,277.64 160.00,277.52 161.00,277.40 162.00,277.31 163.00,277.20 164.00,277.09 165.00,276.98 166.00,276.89 167.00,276.80 168.00,276.73 169.00,276.67 170.00,276.63 171.00,276.61 172.00,276.62 173.00,276.64 174.00,276.67 175.00,276.73 176.00,276.79 177.00,276.86 178.00,276.95 179.00,277.04 180.00,277.14 181.00,277.24 182.00,277.34 183.00,277.45 184.00,277.55 185.00,277.65 186.00,277.76 187.00,277.89 188.00,278.02 189.00,278.17 190.00,278.31 191.00,278.45 192.00,278.60 193.00,278.74 194.00,278.87 195.00,278.98 196.00,279.09 197.00,279.18 198.02,279.32 199.03,279.41 200.05,279.48 201.07,279.52 202.08,279.55 203.10,279.58 203.10,280.78 202.08,280.81 201.07,280.84 200.05,280.88 199.03,280.95 198.02,281.04 197.00,281.18 196.00,281.27 195.00,281.38 194.00,281.49 193.00,281.62 192.00,281.76 191.00,281.91 190.00,282.05 189.00,282.19 188.00,282.34 187.00,282.47 186.00,282.60 185.00,282.71 184.00,282.81 183.00,282.91 182.00,283.02 181.00,283.12 180.00,283.22 179.00,283.32 178.00,283.41 177.00,283.50 176.00,283.57 175.00,283.63 174.00,283.69 173.00,283.72 172.00,283.75 171.00,283.75 170.00,283.73 169.00,283.69 168.00,283.63 167.00,283.56 166.00,283.47 165.00,283.38 164.00,283.27 163.00,283.16 162.00,283.06 161.00,282.96 160.00,282.84 159.00,282.72 158.00,282.59 157.00,282.45 156.00,282.31 155.00,282.17 154.00,282.04 153.00,281.90 152.00,281.78 151.00,281.66 150.00,281.56 148.99,281.47 147.98,281.38 146.97,281.30 145.97,281.22 144.96,281.14 143.95,281.08 142.94,281.01 141.93,280.96 140.93,280.90 139.92,280.86 138.91,280.82 137.90,280.78" fill="#df7b77" stroke="#9a3c3c" stroke-width="0.8"/>
<line x1="137.9" y1="280.18" x2="203.1" y2="280.18" stroke="#111" stroke-width="1.15"/>
<line x1="137.9" y1="278.38" x2="137.9" y2="281.98" stroke="#111" stroke-width="1"/>
<line x1="203.1" y1="278.38" x2="203.1" y2="281.98" stroke="#111" stroke-width="1"/>
<line x1="172" y1="277.58" x2="172" y2="282.78" stroke="#111" stroke-width="1"/>
<polygon points="168.30,290.74 168.65,289.75 169.00,288.71 169.75,288.32 170.50,288.25 171.25,288.32 172.00,288.71 172.35,289.75 172.70,290.74 172.70,291.74 172.35,292.73 172.00,293.77 171.25,294.16 170.50,294.23 169.75,294.16 169.00,293.77 168.65,292.73 168.30,291.74" fill="#df7b77" stroke="#9a3c3c" stroke-width="0.8"/>
<line x1="168.3" y1="291.24" x2="172.7" y2="291.24" stroke="#111" stroke-width="1.15"/>
<line x1="168.3" y1="289.44" x2="168.3" y2="293.04" stroke="#111" stroke-width="1"/>
<line x1="172.7" y1="289.44" x2="172.7" y2="293.04" stroke="#111" stroke-width="1"/>
<line x1="170.5" y1="288.64" x2="170.5" y2="293.84" stroke="#111" stroke-width="1"/>
<polygon points="145.10,301.70 146.20,301.60 147.30,301.47 148.40,301.32 149.50,301.14 150.60,300.96 151.70,300.77 152.80,300.58 153.90,300.40 155.00,300.23 156.00,300.08 157.00,299.92 158.00,299.75 159.00,299.58 160.00,299.41 161.00,299.26 162.00,299.12 163.00,299.00 164.00,298.91 165.00,298.85 166.00,298.82 167.00,298.83 168.00,298.85 169.00,298.90 170.00,298.96 171.00,299.03 172.00,299.12 173.00,299.22 174.00,299.32 175.00,299.43 176.00,299.51 177.00,299.61 178.00,299.72 179.00,299.84 180.00,299.97 181.00,300.09 182.00,300.23 183.00,300.36 184.00,300.48 185.00,300.60 186.00,300.72 187.00,300.83 188.00,300.92 189.08,301.02 190.16,301.12 191.25,301.21 192.33,301.29 193.41,301.37 194.49,301.44 195.57,301.50 196.65,301.56 197.74,301.62 198.82,301.66 199.90,301.70 199.90,302.90 198.82,302.94 197.74,302.98 196.65,303.04 195.57,303.10 194.49,303.16 193.41,303.23 192.33,303.31 191.25,303.39 190.16,303.48 189.08,303.58 188.00,303.68 187.00,303.77 186.00,303.88 185.00,304.00 184.00,304.12 183.00,304.24 182.00,304.37 181.00,304.51 180.00,304.63 179.00,304.76 178.00,304.88 177.00,304.99 176.00,305.09 175.00,305.18 174.00,305.28 173.00,305.38 172.00,305.48 171.00,305.57 170.00,305.64 169.00,305.70 168.00,305.75 167.00,305.77 166.00,305.78 165.00,305.75 164.00,305.69 163.00,305.60 162.00,305.48 161.00,305.34 160.00,305.19 159.00,305.02 158.00,304.85 157.00,304.68 156.00,304.52 155.00,304.37 153.90,304.20 152.80,304.02 151.70,303.83 150.60,303.64 149.50,303.46 148.40,303.28 147.30,303.13 146.20,303.00 145.10,302.90" fill="#cc9a32" stroke="#7a5a10" stroke-width="0.8"/>
<line x1="145.1" y1="302.30" x2="199.9" y2="302.30" stroke="#111" stroke-width="1.15"/>
<line x1="145.1" y1="300.50" x2="145.1" y2="304.10" stroke="#111" stroke-width="1"/>
<line x1="199.9" y1="300.50" x2="199.9" y2="304.10" stroke="#111" stroke-width="1"/>
<line x1="169.6" y1="299.70" x2="169.6" y2="304.90" stroke="#111" stroke-width="1"/>
<polygon points="136.40,312.76 137.47,312.69 138.55,312.59 139.62,312.48 140.70,312.36 141.78,312.22 142.85,312.07 143.93,311.91 145.00,311.75 146.00,311.56 147.00,311.35 148.00,311.11 149.00,310.87 150.00,310.64 151.00,310.43 152.00,310.26 153.00,310.14 154.00,310.08 155.00,310.07 156.00,310.11 157.00,310.17 158.00,310.25 159.00,310.32 160.00,310.37 161.00,310.39 162.00,310.40 163.00,310.41 164.00,310.41 165.00,310.43 166.00,310.46 167.00,310.52 168.00,310.60 169.00,310.69 170.00,310.81 171.00,310.95 172.00,311.10 173.00,311.26 174.00,311.42 175.00,311.57 176.00,311.72 177.00,311.86 178.00,311.98 179.03,312.05 180.05,312.11 181.07,312.17 182.10,312.24 183.12,312.29 184.15,312.35 185.18,312.40 186.20,312.46 187.22,312.51 188.25,312.55 189.28,312.59 190.30,312.63 191.33,312.67 192.35,312.70 193.38,312.73 194.40,312.76 194.40,313.96 193.38,313.99 192.35,314.02 191.33,314.05 190.30,314.09 189.28,314.13 188.25,314.17 187.22,314.21 186.20,314.26 185.18,314.32 184.15,314.37 183.12,314.43 182.10,314.48 181.07,314.55 180.05,314.61 179.03,314.67 178.00,314.74 177.00,314.86 176.00,315.00 175.00,315.15 174.00,315.30 173.00,315.46 172.00,315.62 171.00,315.77 170.00,315.91 169.00,316.03 168.00,316.12 167.00,316.20 166.00,316.26 165.00,316.29 164.00,316.31 163.00,316.31 162.00,316.32 161.00,316.33 160.00,316.35 159.00,316.40 158.00,316.47 157.00,316.55 156.00,316.61 155.00,316.65 154.00,316.64 153.00,316.58 152.00,316.46 151.00,316.29 150.00,316.08 149.00,315.85 148.00,315.61 147.00,315.37 146.00,315.16 145.00,314.97 143.93,314.81 142.85,314.65 141.78,314.50 140.70,314.36 139.62,314.24 138.55,314.13 137.47,314.03 136.40,313.96" fill="#cc9a32" stroke="#7a5a10" stroke-width="0.8"/>
<line x1="136.4" y1="313.36" x2="194.4" y2="313.36" stroke="#111" stroke-width="1.15"/>
<line x1="136.4" y1="311.56" x2="136.4" y2="315.16" stroke="#111" stroke-width="1"/>
<line x1="194.4" y1="311.56" x2="194.4" y2="315.16" stroke="#111" stroke-width="1"/>
<line x1="162.7" y1="310.76" x2="162.7" y2="315.96" stroke="#111" stroke-width="1"/>
<polygon points="170.50,323.82 170.85,322.45 171.20,320.97 172.30,320.76 173.40,320.59 174.50,320.45 175.60,320.35 176.70,320.26 177.80,320.19 178.90,320.12 180.00,320.05 181.00,320.02 182.00,319.99 183.00,319.97 184.00,319.94 185.00,319.92 186.00,319.90 187.00,319.88 188.00,319.86 189.00,319.84 190.00,319.83 191.00,319.81 192.00,319.80 193.00,319.80 194.00,319.79 195.00,319.79 196.00,319.79 197.00,319.79 198.00,319.80 199.00,319.81 200.00,319.82 201.00,319.84 202.00,319.87 203.00,319.90 204.00,319.94 205.00,319.99 206.00,320.03 207.00,320.09 208.00,320.14 209.00,320.20 210.00,320.27 211.00,320.33 212.00,320.40 213.00,320.48 214.00,320.55 215.00,320.62 216.00,320.71 217.00,320.79 218.00,320.89 219.00,320.99 220.00,321.09 221.00,321.20 222.00,321.31 223.00,321.42 224.00,321.53 225.00,321.64 226.00,321.74 227.00,321.85 228.00,321.94 229.00,322.04 230.00,322.12 231.00,322.18 232.00,322.24 233.00,322.29 234.00,322.34 235.00,322.39 236.00,322.44 237.00,322.49 238.00,322.54 239.00,322.58 240.00,322.62 241.00,322.67 242.00,322.71 243.00,322.75 244.00,322.79 245.00,322.83 246.00,322.87 247.00,322.92 248.00,322.96 249.00,323.00 250.00,323.04 251.00,323.08 252.00,323.13 253.00,323.17 254.00,323.22 255.00,323.26 256.00,323.31 257.00,323.35 258.00,323.40 259.00,323.44 260.00,323.49 261.00,323.53 262.00,323.57 263.00,323.61 264.00,323.65 265.00,323.68 266.00,323.72 267.00,323.75 268.00,323.77 269.00,323.80 270.00,323.82 270.00,325.02 269.00,325.04 268.00,325.07 267.00,325.09 266.00,325.12 265.00,325.16 264.00,325.19 263.00,325.23 262.00,325.27 261.00,325.31 260.00,325.35 259.00,325.40 258.00,325.44 257.00,325.49 256.00,325.53 255.00,325.58 254.00,325.62 253.00,325.67 252.00,325.71 251.00,325.76 250.00,325.80 249.00,325.84 248.00,325.88 247.00,325.92 246.00,325.97 245.00,326.01 244.00,326.05 243.00,326.09 242.00,326.13 241.00,326.17 240.00,326.22 239.00,326.26 238.00,326.30 237.00,326.35 236.00,326.40 235.00,326.45 234.00,326.50 233.00,326.55 232.00,326.60 231.00,326.66 230.00,326.72 229.00,326.80 228.00,326.90 227.00,326.99 226.00,327.10 225.00,327.20 224.00,327.31 223.00,327.42 222.00,327.53 221.00,327.64 220.00,327.75 219.00,327.85 218.00,327.95 217.00,328.05 216.00,328.13 215.00,328.22 214.00,328.29 213.00,328.36 212.00,328.44 211.00,328.51 210.00,328.57 209.00,328.64 208.00,328.70 207.00,328.75 206.00,328.81 205.00,328.85 204.00,328.90 203.00,328.94 202.00,328.97 201.00,329.00 200.00,329.02 199.00,329.03 198.00,329.04 197.00,329.05 196.00,329.05 195.00,329.05 194.00,329.05 193.00,329.04 192.00,329.04 191.00,329.03 190.00,329.01 189.00,329.00 188.00,328.98 187.00,328.96 186.00,328.94 185.00,328.92 184.00,328.90 183.00,328.87 182.00,328.85 181.00,328.82 180.00,328.79 178.90,328.72 177.80,328.65 176.70,328.58 175.60,328.49 174.50,328.39 173.40,328.25 172.30,328.08 171.20,327.87 170.85,326.39 170.50,325.02" fill="#c072bf" stroke="#7c357c" stroke-width="0.8"/>
<line x1="170.5" y1="324.42" x2="270" y2="324.42" stroke="#111" stroke-width="1.15"/>
<line x1="170.5" y1="322.62" x2="170.5" y2="326.22" stroke="#111" stroke-width="1"/>
<line x1="270" y1="322.62" x2="270" y2="326.22" stroke="#111" stroke-width="1"/>
<line x1="209.5" y1="321.82" x2="209.5" y2="327.02" stroke="#111" stroke-width="1"/>
<text x="315.30" y="16.00" font-size="10.5" text-anchor="start" fill="#111" font-weight="bold" >B</text>
<path d="M361.8 23.5 V115.2 H485.5" fill="none" stroke="#111" stroke-width="1.8"/>
<line x1="359" y1="115.20" x2="361.8" y2="115.20" stroke="#111" stroke-width="1"/>
<text x="356.50" y="118.00" font-size="8" text-anchor="end" fill="#333" >-2</text>
<line x1="359" y1="104.10" x2="361.8" y2="104.10" stroke="#111" stroke-width="1"/>
<text x="356.50" y="106.90" font-size="8" text-anchor="end" fill="#333" >-1</text>
<line x1="359" y1="93.00" x2="361.8" y2="93.00" stroke="#111" stroke-width="1"/>
<text x="356.50" y="95.80" font-size="8" text-anchor="end" fill="#333" >0</text>
<line x1="359" y1="81.90" x2="361.8" y2="81.90" stroke="#111" stroke-width="1"/>
<text x="356.50" y="84.70" font-size="8" text-anchor="end" fill="#333" >1</text>
<line x1="359" y1="70.80" x2="361.8" y2="70.80" stroke="#111" stroke-width="1"/>
<text x="356.50" y="73.60" font-size="8" text-anchor="end" fill="#333" >2</text>
<line x1="359" y1="59.70" x2="361.8" y2="59.70" stroke="#111" stroke-width="1"/>
<text x="356.50" y="62.50" font-size="8" text-anchor="end" fill="#333" >3</text>
<line x1="359" y1="48.60" x2="361.8" y2="48.60" stroke="#111" stroke-width="1"/>
<text x="356.50" y="51.40" font-size="8" text-anchor="end" fill="#333" >4</text>
<line x1="359" y1="37.50" x2="361.8" y2="37.50" stroke="#111" stroke-width="1"/>
<text x="356.50" y="40.30" font-size="8" text-anchor="end" fill="#333" >5</text>
<line x1="359" y1="26.40" x2="361.8" y2="26.40" stroke="#111" stroke-width="1"/>
<text x="356.50" y="29.20" font-size="8" text-anchor="end" fill="#333" >6</text>
<line x1="360.3" y1="112.42" x2="361.8" y2="112.42" stroke="#111" stroke-width="0.8"/>
<line x1="360" y1="109.65" x2="361.8" y2="109.65" stroke="#111" stroke-width="0.8"/>
<line x1="360.3" y1="106.88" x2="361.8" y2="106.88" stroke="#111" stroke-width="0.8"/>
<line x1="360" y1="104.10" x2="361.8" y2="104.10" stroke="#111" stroke-width="0.8"/>
<line x1="360.3" y1="101.32" x2="361.8" y2="101.32" stroke="#111" stroke-width="0.8"/>
<line x1="360" y1="98.55" x2="361.8" y2="98.55" stroke="#111" stroke-width="0.8"/>
<line x1="360.3" y1="95.78" x2="361.8" y2="95.78" stroke="#111" stroke-width="0.8"/>
<line x1="360" y1="93.00" x2="361.8" y2="93.00" stroke="#111" stroke-width="0.8"/>
<line x1="360.3" y1="90.22" x2="361.8" y2="90.22" stroke="#111" stroke-width="0.8"/>
<line x1="360" y1="87.45" x2="361.8" y2="87.45" stroke="#111" stroke-width="0.8"/>
<line x1="360.3" y1="84.67" x2="361.8" y2="84.67" stroke="#111" stroke-width="0.8"/>
<line x1="360" y1="81.90" x2="361.8" y2="81.90" stroke="#111" stroke-width="0.8"/>
<line x1="360.3" y1="79.12" x2="361.8" y2="79.12" stroke="#111" stroke-width="0.8"/>
<line x1="360" y1="76.35" x2="361.8" y2="76.35" stroke="#111" stroke-width="0.8"/>
<line x1="360.3" y1="73.57" x2="361.8" y2="73.57" stroke="#111" stroke-width="0.8"/>
<line x1="360" y1="70.80" x2="361.8" y2="70.80" stroke="#111" stroke-width="0.8"/>
<line x1="360.3" y1="68.03" x2="361.8" y2="68.03" stroke="#111" stroke-width="0.8"/>
<line x1="360" y1="65.25" x2="361.8" y2="65.25" stroke="#111" stroke-width="0.8"/>
<line x1="360.3" y1="62.47" x2="361.8" y2="62.47" stroke="#111" stroke-width="0.8"/>
<line x1="360" y1="59.70" x2="361.8" y2="59.70" stroke="#111" stroke-width="0.8"/>
<line x1="360.3" y1="56.92" x2="361.8" y2="56.92" stroke="#111" stroke-width="0.8"/>
<line x1="360" y1="54.15" x2="361.8" y2="54.15" stroke="#111" stroke-width="0.8"/>
<line x1="360.3" y1="51.38" x2="361.8" y2="51.38" stroke="#111" stroke-width="0.8"/>
<line x1="360" y1="48.60" x2="361.8" y2="48.60" stroke="#111" stroke-width="0.8"/>
<line x1="360.3" y1="45.83" x2="361.8" y2="45.83" stroke="#111" stroke-width="0.8"/>
<line x1="360" y1="43.05" x2="361.8" y2="43.05" stroke="#111" stroke-width="0.8"/>
<line x1="360.3" y1="40.27" x2="361.8" y2="40.27" stroke="#111" stroke-width="0.8"/>
<line x1="360" y1="37.50" x2="361.8" y2="37.50" stroke="#111" stroke-width="0.8"/>
<line x1="360.3" y1="34.72" x2="361.8" y2="34.72" stroke="#111" stroke-width="0.8"/>
<line x1="360" y1="31.95" x2="361.8" y2="31.95" stroke="#111" stroke-width="0.8"/>
<line x1="360.3" y1="29.17" x2="361.8" y2="29.17" stroke="#111" stroke-width="0.8"/>
<line x1="360" y1="26.40" x2="361.8" y2="26.40" stroke="#111" stroke-width="0.8"/>
<line x1="362.10" y1="115.2" x2="362.10" y2="118.4" stroke="#111" stroke-width="1"/>
<line x1="364.36" y1="115.2" x2="364.36" y2="117" stroke="#111" stroke-width="0.8"/>
<line x1="368.21" y1="115.2" x2="368.21" y2="117" stroke="#111" stroke-width="0.8"/>
<line x1="371.42" y1="115.2" x2="371.42" y2="117" stroke="#111" stroke-width="0.8"/>
<line x1="374.16" y1="115.2" x2="374.16" y2="117" stroke="#111" stroke-width="0.8"/>
<line x1="375.40" y1="115.2" x2="375.40" y2="118.4" stroke="#111" stroke-width="1"/>
<line x1="377.66" y1="115.2" x2="377.66" y2="117" stroke="#111" stroke-width="0.8"/>
<line x1="381.51" y1="115.2" x2="381.51" y2="117" stroke="#111" stroke-width="0.8"/>
<line x1="384.72" y1="115.2" x2="384.72" y2="117" stroke="#111" stroke-width="0.8"/>
<line x1="387.46" y1="115.2" x2="387.46" y2="117" stroke="#111" stroke-width="0.8"/>
<line x1="388.70" y1="115.2" x2="388.70" y2="118.4" stroke="#111" stroke-width="1"/>
<line x1="390.96" y1="115.2" x2="390.96" y2="117" stroke="#111" stroke-width="0.8"/>
<line x1="394.81" y1="115.2" x2="394.81" y2="117" stroke="#111" stroke-width="0.8"/>
<line x1="398.02" y1="115.2" x2="398.02" y2="117" stroke="#111" stroke-width="0.8"/>
<line x1="400.76" y1="115.2" x2="400.76" y2="117" stroke="#111" stroke-width="0.8"/>
<line x1="402.00" y1="115.2" x2="402.00" y2="118.4" stroke="#111" stroke-width="1"/>
<line x1="404.26" y1="115.2" x2="404.26" y2="117" stroke="#111" stroke-width="0.8"/>
<line x1="408.11" y1="115.2" x2="408.11" y2="117" stroke="#111" stroke-width="0.8"/>
<line x1="411.32" y1="115.2" x2="411.32" y2="117" stroke="#111" stroke-width="0.8"/>
<line x1="414.06" y1="115.2" x2="414.06" y2="117" stroke="#111" stroke-width="0.8"/>
<line x1="415.30" y1="115.2" x2="415.30" y2="118.4" stroke="#111" stroke-width="1"/>
<line x1="417.56" y1="115.2" x2="417.56" y2="117" stroke="#111" stroke-width="0.8"/>
<line x1="421.41" y1="115.2" x2="421.41" y2="117" stroke="#111" stroke-width="0.8"/>
<line x1="424.62" y1="115.2" x2="424.62" y2="117" stroke="#111" stroke-width="0.8"/>
<line x1="427.36" y1="115.2" x2="427.36" y2="117" stroke="#111" stroke-width="0.8"/>
<line x1="428.60" y1="115.2" x2="428.60" y2="118.4" stroke="#111" stroke-width="1"/>
<line x1="430.86" y1="115.2" x2="430.86" y2="117" stroke="#111" stroke-width="0.8"/>
<line x1="434.71" y1="115.2" x2="434.71" y2="117" stroke="#111" stroke-width="0.8"/>
<line x1="437.92" y1="115.2" x2="437.92" y2="117" stroke="#111" stroke-width="0.8"/>
<line x1="440.66" y1="115.2" x2="440.66" y2="117" stroke="#111" stroke-width="0.8"/>
<line x1="441.90" y1="115.2" x2="441.90" y2="118.4" stroke="#111" stroke-width="1"/>
<line x1="444.16" y1="115.2" x2="444.16" y2="117" stroke="#111" stroke-width="0.8"/>
<line x1="448.01" y1="115.2" x2="448.01" y2="117" stroke="#111" stroke-width="0.8"/>
<line x1="451.22" y1="115.2" x2="451.22" y2="117" stroke="#111" stroke-width="0.8"/>
<line x1="453.96" y1="115.2" x2="453.96" y2="117" stroke="#111" stroke-width="0.8"/>
<line x1="455.20" y1="115.2" x2="455.20" y2="118.4" stroke="#111" stroke-width="1"/>
<line x1="457.46" y1="115.2" x2="457.46" y2="117" stroke="#111" stroke-width="0.8"/>
<line x1="461.31" y1="115.2" x2="461.31" y2="117" stroke="#111" stroke-width="0.8"/>
<line x1="464.52" y1="115.2" x2="464.52" y2="117" stroke="#111" stroke-width="0.8"/>
<line x1="467.26" y1="115.2" x2="467.26" y2="117" stroke="#111" stroke-width="0.8"/>
<line x1="468.50" y1="115.2" x2="468.50" y2="118.4" stroke="#111" stroke-width="1"/>
<line x1="470.76" y1="115.2" x2="470.76" y2="117" stroke="#111" stroke-width="0.8"/>
<line x1="474.61" y1="115.2" x2="474.61" y2="117" stroke="#111" stroke-width="0.8"/>
<line x1="477.82" y1="115.2" x2="477.82" y2="117" stroke="#111" stroke-width="0.8"/>
<line x1="480.56" y1="115.2" x2="480.56" y2="117" stroke="#111" stroke-width="0.8"/>
<line x1="481.80" y1="115.2" x2="481.80" y2="118.4" stroke="#111" stroke-width="1"/>
<text x="362.10" y="128.20" font-size="8" text-anchor="middle" fill="#333" >1</text>
<text x="375.40" y="128.20" font-size="8" text-anchor="middle" fill="#333" >2</text>
<text x="388.70" y="128.20" font-size="8" text-anchor="middle" fill="#333" >4</text>
<text x="402.00" y="128.20" font-size="8" text-anchor="middle" fill="#333" >8</text>
<text x="415.30" y="128.20" font-size="8" text-anchor="middle" fill="#333" >16</text>
<text x="428.60" y="128.20" font-size="8" text-anchor="middle" fill="#333" >32</text>
<text x="441.90" y="128.20" font-size="8" text-anchor="middle" fill="#333" >64</text>
<text x="455.20" y="128.20" font-size="8" text-anchor="middle" fill="#333" >128</text>
<text x="468.50" y="128.20" font-size="8" text-anchor="middle" fill="#333" >256</text>
<text x="481.80" y="128.20" font-size="8" text-anchor="middle" fill="#333" >512</text>
<text x="410.90" y="140.50" font-size="8.7" text-anchor="start" fill="#333"  textLength="25" lengthAdjust="spacingAndGlyphs"># Lipids</text>
<text transform="translate(337.8,69.2) rotate(-90)" font-size="8.8" text-anchor="middle" fill="#333" textLength="77.5" lengthAdjust="spacingAndGlyphs">Log10 [pmol/mg <tspan font-size="6.3">protein</tspan>]</text>
<circle cx="366.3" cy="28.6" r="1.4" fill="#2d4a7c"/>
<text transform="translate(370.80,30.80) scale(1.05,1)" x="0" y="0" font-size="6.4" text-anchor="start" fill="#333" >Mice</text>
<circle cx="366.3" cy="38.9" r="1.4" fill="#a3173c"/>
<text transform="translate(370.80,41.10) scale(1.05,1)" x="0" y="0" font-size="6.4" text-anchor="start" fill="#333" >Human</text>
<circle cx="396" cy="92" r="1.4" fill="#2d4a7c"/>
<circle cx="398.5" cy="91.8" r="1.4" fill="#2d4a7c"/>
<circle cx="401" cy="91.6" r="1.4" fill="#2d4a7c"/>
<circle cx="403.5" cy="91.5" r="1.4" fill="#2d4a7c"/>
<circle cx="406" cy="91.3" r="1.4" fill="#2d4a7c"/>
<polyline points="408.00,91.20 411.70,91.00 420.00,90.00 432.90,88.60 443.50,87.20 454.00,85.20 458.00,83.20 461.50,80.50 464.60,77.00 468.80,69.20 471.50,65.00 472.90,61.50 474.60,55.80 475.60,47.60" fill="none" stroke="#2d4a7c" stroke-width="2.8" stroke-linejoin="round" stroke-linecap="round"/>
<polyline points="410.50,92.00 414.00,90.30 418.00,88.60 422.30,87.20 430.00,86.00 443.50,84.20 449.60,82.60 454.00,81.20 459.20,78.80 464.60,76.00 468.80,72.50 472.00,69.60 474.60,67.00 476.80,64.50 478.50,61.50 479.60,57.00 480.10,52.00 480.60,42.80" fill="none" stroke="#a3173c" stroke-width="3.2" stroke-linejoin="round" stroke-linecap="round"/>
<circle cx="362.1" cy="99.5" r="1.35" fill="#2d4a7c"/>
<circle cx="375.4" cy="95.5" r="1.35" fill="#2d4a7c"/>
<circle cx="383.4" cy="95.4" r="1.35" fill="#2d4a7c"/>
<circle cx="388.6" cy="95" r="1.35" fill="#2d4a7c"/>
<circle cx="392.8" cy="93.8" r="1.35" fill="#2d4a7c"/>
<circle cx="362.1" cy="109.3" r="1.35" fill="#a3173c"/>
<circle cx="375.6" cy="107.1" r="1.35" fill="#a3173c"/>
<circle cx="383.4" cy="107" r="1.35" fill="#a3173c"/>
<circle cx="388.9" cy="102.8" r="1.35" fill="#a3173c"/>
<circle cx="393.1" cy="102.8" r="1.35" fill="#a3173c"/>
<circle cx="397" cy="100.8" r="1.35" fill="#a3173c"/>
<circle cx="399.2" cy="100.5" r="1.35" fill="#a3173c"/>
<circle cx="401.3" cy="100" r="1.35" fill="#a3173c"/>
<circle cx="403.3" cy="98.6" r="1.35" fill="#a3173c"/>
<circle cx="405.4" cy="95.2" r="1.35" fill="#a3173c"/>
<circle cx="407.8" cy="93.5" r="1.35" fill="#a3173c"/>
<circle cx="475.8" cy="38" r="1.4" fill="#2d4a7c"/>
<circle cx="480.6" cy="36.3" r="1.4" fill="#a3173c"/>
<text x="471.30" y="38.90" font-size="6.6" text-anchor="end" fill="#333"  textLength="33.2" lengthAdjust="spacingAndGlyphs">Cholesterol</text>
<text x="470.20" y="49.60" font-size="6.6" text-anchor="end" fill="#333"  textLength="37.6" lengthAdjust="spacingAndGlyphs">PI 18:0 - 20:4</text>
<text x="369.40" y="90.60" font-size="6.6" text-anchor="start" fill="#333"  textLength="24" lengthAdjust="spacingAndGlyphs">12-HEPE</text>
<text x="315.30" y="156.40" font-size="10.5" text-anchor="start" fill="#111" font-weight="bold" >C</text>
<path d="M361.8 164 V251.2 H478" fill="none" stroke="#111" stroke-width="1.7"/>
<line x1="359" y1="251.00" x2="361.8" y2="251.00" stroke="#111" stroke-width="1"/>
<text x="357.00" y="253.80" font-size="8" text-anchor="end" fill="#333" >0</text>
<line x1="359" y1="234.08" x2="361.8" y2="234.08" stroke="#111" stroke-width="1"/>
<text x="357.00" y="236.88" font-size="8" text-anchor="end" fill="#333" >20</text>
<line x1="359" y1="217.16" x2="361.8" y2="217.16" stroke="#111" stroke-width="1"/>
<text x="357.00" y="219.96" font-size="8" text-anchor="end" fill="#333" >40</text>
<line x1="359" y1="200.24" x2="361.8" y2="200.24" stroke="#111" stroke-width="1"/>
<text x="357.00" y="203.04" font-size="8" text-anchor="end" fill="#333" >60</text>
<line x1="359" y1="183.32" x2="361.8" y2="183.32" stroke="#111" stroke-width="1"/>
<text x="357.00" y="186.12" font-size="8" text-anchor="end" fill="#333" >80</text>
<line x1="359" y1="166.40" x2="361.8" y2="166.40" stroke="#111" stroke-width="1"/>
<text x="357.00" y="169.20" font-size="8" text-anchor="end" fill="#333" >100</text>
<line x1="360.3" y1="242.54" x2="361.8" y2="242.54" stroke="#111" stroke-width="0.8"/>
<line x1="360.3" y1="225.62" x2="361.8" y2="225.62" stroke="#111" stroke-width="0.8"/>
<line x1="360.3" y1="208.70" x2="361.8" y2="208.70" stroke="#111" stroke-width="0.8"/>
<line x1="360.3" y1="191.78" x2="361.8" y2="191.78" stroke="#111" stroke-width="0.8"/>
<line x1="360.3" y1="174.86" x2="361.8" y2="174.86" stroke="#111" stroke-width="0.8"/>
<line x1="362.50" y1="251.2" x2="362.50" y2="254" stroke="#111" stroke-width="1"/>
<text x="362.50" y="262.60" font-size="8" text-anchor="middle" fill="#333" >0</text>
<line x1="390.80" y1="251.2" x2="390.80" y2="254" stroke="#111" stroke-width="1"/>
<text x="390.80" y="262.60" font-size="8" text-anchor="middle" fill="#333" >100</text>
<line x1="419.10" y1="251.2" x2="419.10" y2="254" stroke="#111" stroke-width="1"/>
<text x="419.10" y="262.60" font-size="8" text-anchor="middle" fill="#333" >200</text>
<line x1="447.40" y1="251.2" x2="447.40" y2="254" stroke="#111" stroke-width="1"/>
<text x="447.40" y="262.60" font-size="8" text-anchor="middle" fill="#333" >300</text>
<line x1="475.70" y1="251.2" x2="475.70" y2="254" stroke="#111" stroke-width="1"/>
<text x="475.70" y="262.60" font-size="8" text-anchor="middle" fill="#333" >400</text>
<line x1="376.65" y1="251.2" x2="376.65" y2="252.8" stroke="#111" stroke-width="0.8"/>
<line x1="404.95" y1="251.2" x2="404.95" y2="252.8" stroke="#111" stroke-width="0.8"/>
<line x1="433.25" y1="251.2" x2="433.25" y2="252.8" stroke="#111" stroke-width="0.8"/>
<line x1="461.55" y1="251.2" x2="461.55" y2="252.8" stroke="#111" stroke-width="0.8"/>
<text x="407.90" y="276.90" font-size="8.7" text-anchor="start" fill="#333"  textLength="24.9" lengthAdjust="spacingAndGlyphs"># Lipids</text>
<text transform="translate(336.2,207.4) rotate(-90)" font-size="8.7" text-anchor="middle" fill="#333" textLength="67.8" lengthAdjust="spacingAndGlyphs">% total lipid amount</text>
<line x1="373" y1="191.6" x2="478" y2="191.6" stroke="#d4d4d4" stroke-width="1" stroke-dasharray="3.5,4.5"/>
<polyline points="362.67,215.86 362.78,212.94 362.92,209.66 363.07,206.74 363.21,204.14 363.35,201.83 363.49,199.76 363.63,197.92 363.92,194.80 364.20,192.30 364.48,190.27 364.76,188.62 365.33,186.13 365.90,184.38 366.46,183.08 367.31,181.63 368.16,180.52 369.29,179.31 370.42,178.27 371.84,177.12 373.25,176.10 375.24,174.83 377.22,173.73 379.48,172.64 382.31,171.51 385.14,170.58 388.82,169.63 393.06,168.79 397.88,168.10 404.10,167.50 410.61,167.09 419.10,166.78 427.59,166.61 436.08,166.51 447.40,166.45 461.55,166.42 475.70,166.41" fill="none" stroke="#8a1838" stroke-width="1.8" stroke-linejoin="round"/>
<text x="370.80" y="199.20" font-size="6.5" text-anchor="start" fill="#333" >1.Cholesterol</text>
<text x="370.80" y="206.20" font-size="6.5" text-anchor="start" fill="#333" >2.PI 18:0 - 20:4</text>
<text x="370.80" y="213.20" font-size="6.5" text-anchor="start" fill="#333" >3.PE 20:4 - 16:0</text>
<text x="370.80" y="220.20" font-size="6.5" text-anchor="start" fill="#333" >4.SM d18:1/24:0</text>
<text x="370.80" y="227.20" font-size="6.5" text-anchor="start" fill="#333" >5.SM d18:1/24:1</text>
<text x="370.80" y="234.20" font-size="6.5" text-anchor="start" fill="#333" >6.PC 16:0 - 16:0</text>
<text x="370.80" y="241.20" font-size="6.5" text-anchor="start" fill="#333" >7.SM d18:1/22:0</text>
<text x="370.80" y="248.20" font-size="6.5" text-anchor="start" fill="#333" >8.PS 20:4 - 18:0</text>
<text x="423.90" y="199.20" font-size="6.5" text-anchor="start" fill="#333" >9.PC 18:1 - 16:0</text>
<text x="423.90" y="206.20" font-size="6.5" text-anchor="start" fill="#333" >10.SM d18:1/16:0</text>
<text x="423.90" y="213.20" font-size="6.5" text-anchor="start" fill="#333" >11.PC 20:4 - 16:0</text>
<text x="423.90" y="220.20" font-size="6.5" text-anchor="start" fill="#333" >12.PC 20:4 - 18:0</text>
<text x="423.90" y="227.20" font-size="6.5" text-anchor="start" fill="#333" >13.PE 18:2 - 18:0</text>
<text x="423.90" y="234.20" font-size="6.5" text-anchor="start" fill="#333" >14.PC 18:2 - 16:0</text>
<text x="423.90" y="241.20" font-size="6.5" text-anchor="start" fill="#333" >15.PE 20:4 - 18:1</text>
<text x="315.70" y="292.30" font-size="10.5" text-anchor="start" fill="#111" font-weight="bold" >D</text>
<path d="M361.8 300.3 V391.3 H485" fill="none" stroke="#111" stroke-width="1.7"/>
<line x1="359" y1="391.50" x2="361.8" y2="391.50" stroke="#111" stroke-width="1"/>
<text x="356.50" y="394.30" font-size="8" text-anchor="end" fill="#333" >1</text>
<line x1="362.50" y1="391.3" x2="362.50" y2="394" stroke="#111" stroke-width="1"/>
<text x="362.50" y="404.50" font-size="8" text-anchor="middle" fill="#333" >1</text>
<line x1="359" y1="373.70" x2="361.8" y2="373.70" stroke="#111" stroke-width="1"/>
<text x="356.50" y="376.50" font-size="8" text-anchor="end" fill="#333" >2</text>
<line x1="386.50" y1="391.3" x2="386.50" y2="394" stroke="#111" stroke-width="1"/>
<text x="386.50" y="404.50" font-size="8" text-anchor="middle" fill="#333" >2</text>
<line x1="359" y1="355.90" x2="361.8" y2="355.90" stroke="#111" stroke-width="1"/>
<text x="356.50" y="358.70" font-size="8" text-anchor="end" fill="#333" >3</text>
<line x1="410.50" y1="391.3" x2="410.50" y2="394" stroke="#111" stroke-width="1"/>
<text x="410.50" y="404.50" font-size="8" text-anchor="middle" fill="#333" >3</text>
<line x1="359" y1="338.10" x2="361.8" y2="338.10" stroke="#111" stroke-width="1"/>
<text x="356.50" y="340.90" font-size="8" text-anchor="end" fill="#333" >4</text>
<line x1="434.50" y1="391.3" x2="434.50" y2="394" stroke="#111" stroke-width="1"/>
<text x="434.50" y="404.50" font-size="8" text-anchor="middle" fill="#333" >4</text>
<line x1="359" y1="320.30" x2="361.8" y2="320.30" stroke="#111" stroke-width="1"/>
<text x="356.50" y="323.10" font-size="8" text-anchor="end" fill="#333" >5</text>
<line x1="458.50" y1="391.3" x2="458.50" y2="394" stroke="#111" stroke-width="1"/>
<text x="458.50" y="404.50" font-size="8" text-anchor="middle" fill="#333" >5</text>
<line x1="359" y1="302.50" x2="361.8" y2="302.50" stroke="#111" stroke-width="1"/>
<text x="356.50" y="305.30" font-size="8" text-anchor="end" fill="#333" >6</text>
<line x1="482.50" y1="391.3" x2="482.50" y2="394" stroke="#111" stroke-width="1"/>
<text x="482.50" y="404.50" font-size="8" text-anchor="middle" fill="#333" >6</text>
<line x1="360.3" y1="382.60" x2="361.8" y2="382.60" stroke="#111" stroke-width="0.8"/>
<line x1="374.50" y1="391.3" x2="374.50" y2="392.8" stroke="#111" stroke-width="0.8"/>
<line x1="360.3" y1="364.80" x2="361.8" y2="364.80" stroke="#111" stroke-width="0.8"/>
<line x1="398.50" y1="391.3" x2="398.50" y2="392.8" stroke="#111" stroke-width="0.8"/>
<line x1="360.3" y1="347.00" x2="361.8" y2="347.00" stroke="#111" stroke-width="0.8"/>
<line x1="422.50" y1="391.3" x2="422.50" y2="392.8" stroke="#111" stroke-width="0.8"/>
<line x1="360.3" y1="329.20" x2="361.8" y2="329.20" stroke="#111" stroke-width="0.8"/>
<line x1="446.50" y1="391.3" x2="446.50" y2="392.8" stroke="#111" stroke-width="0.8"/>
<line x1="360.3" y1="311.40" x2="361.8" y2="311.40" stroke="#111" stroke-width="0.8"/>
<line x1="470.50" y1="391.3" x2="470.50" y2="392.8" stroke="#111" stroke-width="0.8"/>
<text x="415.50" y="416.20" font-size="8.8" text-anchor="start" fill="#333"  textLength="15.3" lengthAdjust="spacingAndGlyphs">Mice</text>
<text x="384.3" y="428" font-size="8.8" fill="#333" textLength="78.5" lengthAdjust="spacingAndGlyphs">Log10 [pmol/mg <tspan font-size="6.3" dy="0.8">protein</tspan><tspan dy="-0.8">]</tspan></text>
<text transform="translate(324,345.2) rotate(-90)" font-size="8.8" text-anchor="middle" fill="#333" textLength="24.4" lengthAdjust="spacingAndGlyphs">Human</text>
<text transform="translate(335.8,346) rotate(-90)" font-size="8.8" text-anchor="middle" fill="#333" textLength="79.5" lengthAdjust="spacingAndGlyphs">Log10 [pmol/mg <tspan font-size="6.3">protein</tspan>]</text>
<text x="365.30" y="309.00" font-size="7.3" text-anchor="start" fill="#333" >R<tspan font-size="5" dy="-2.5">2</tspan><tspan dy="2.5">=0.9888</tspan></text>
<line x1="386.2" y1="372.6" x2="456.2" y2="318.4" stroke="#b81e3c" stroke-width="1.8"/>
<circle cx="422.6" cy="330.5" r="2.05" fill="#2b3a6e"/>
<circle cx="426" cy="340.3" r="2.05" fill="#2b3a6e"/>
<circle cx="412.5" cy="347.4" r="2.05" fill="#2b3a6e"/>
<circle cx="414.5" cy="348" r="2.05" fill="#2b3a6e"/>
<circle cx="402.4" cy="348.8" r="2.05" fill="#2b3a6e"/>
<circle cx="393.4" cy="350.4" r="2.05" fill="#2b3a6e"/>
<circle cx="395.7" cy="351" r="2.05" fill="#2b3a6e"/>
<circle cx="386.9" cy="357.1" r="2.05" fill="#2b3a6e"/>
<circle cx="390.3" cy="358.7" r="2.05" fill="#2b3a6e"/>
<circle cx="386.2" cy="364.5" r="2.05" fill="#2b3a6e"/>
<circle cx="399" cy="360.5" r="2.05" fill="#2b3a6e"/>
<circle cx="417.6" cy="353.3" r="2.05" fill="#2b3a6e"/>
<circle cx="426" cy="352" r="2.05" fill="#2b3a6e"/>
<circle cx="398" cy="366.3" r="2.05" fill="#2b3a6e"/>
<circle cx="413.8" cy="368.5" r="2.05" fill="#2b3a6e"/>
<circle cx="404.4" cy="376.6" r="2.05" fill="#2b3a6e"/>
<circle cx="455.9" cy="321.4" r="2.05" fill="#2b3a6e"/>
<circle cx="446" cy="323.7" r="2.05" fill="#2b3a6e"/>
<circle cx="447.2" cy="327.5" r="2.05" fill="#2b3a6e"/>
<circle cx="446.3" cy="330.6" r="2.05" fill="#2b3a6e"/>
<circle cx="448.1" cy="329.2" r="2.05" fill="#2b3a6e"/>
<circle cx="436" cy="340.1" r="2.05" fill="#2b3a6e"/>
<circle cx="432.5" cy="342.2" r="2.05" fill="#2b3a6e"/>
<circle cx="425.6" cy="351.4" r="2.05" fill="#2b3a6e"/>
<circle cx="412.6" cy="347.4" r="2.05" fill="#2b3a6e"/>
<circle cx="408" cy="355" r="2.05" fill="#2b3a6e"/>
<circle cx="420" cy="346" r="2.05" fill="#2b3a6e"/>
<circle cx="405" cy="352.5" r="2.05" fill="#2b3a6e"/>
<text x="459.80" y="324.00" font-size="7.3" text-anchor="start" fill="#333" >Cholesterol</text>
<text x="437.70" y="322.30" font-size="7.3" text-anchor="start" fill="#333" >PC</text>
<text x="450.20" y="329.80" font-size="7.3" text-anchor="start" fill="#333" >PE</text>
<text x="447.20" y="336.20" font-size="7.3" text-anchor="start" fill="#333" >SM</text>
<text x="425.60" y="329.80" font-size="7.3" text-anchor="start" fill="#333" >pPE</text>
<text x="438.60" y="338.80" font-size="7.3" text-anchor="start" fill="#333" >PS</text>
<text x="438.60" y="344.80" font-size="7.3" text-anchor="start" fill="#333" >PI</text>
<text x="411.00" y="337.40" font-size="7.3" text-anchor="start" fill="#333" >ChoE</text>
<text x="419.50" y="350.00" font-size="7.3" text-anchor="start" fill="#333" >LPC</text>
<text x="427.70" y="359.90" font-size="7.3" text-anchor="start" fill="#333" >CL</text>
<text x="416.90" y="373.40" font-size="7.3" text-anchor="start" fill="#333" >PG</text>
<text x="381.50" y="350.30" font-size="7.3" text-anchor="start" fill="#333" >So</text>
<text x="391.60" y="346.90" font-size="7.3" text-anchor="start" fill="#333" >S1P</text>
<text x="404.40" y="344.20" font-size="7.3" text-anchor="start" fill="#333" >FFA</text>
<text x="370.80" y="359.70" font-size="7.3" text-anchor="start" fill="#333" >LPE</text>
<text x="392.00" y="360.40" font-size="7.3" text-anchor="start" fill="#333" >Sa</text>
<text x="399.50" y="356.10" font-size="7.3" text-anchor="start" fill="#333" >Sa1P</text>
<text x="411.10" y="360.40" font-size="7.3" text-anchor="start" fill="#333" >Cer</text>
<text x="402.40" y="366.40" font-size="7.3" text-anchor="start" fill="#333" >HexCer</text>
<text x="400.40" y="371.80" font-size="7.3" text-anchor="start" fill="#333" >PA</text>
<text x="364.00" y="377.90" font-size="7.3" text-anchor="start" fill="#333" >Eicosanoids</text>
<text x="407.80" y="379.50" font-size="7.3" text-anchor="start" fill="#333" >DAG</text>
<text x="7.00" y="435.20" font-size="10.5" text-anchor="start" fill="#111" font-weight="bold" >E</text>
<line x1="64.9" y1="442.3" x2="64.9" y2="612.5" stroke="#d4d4d4" stroke-width="3.4"/>
<line x1="132.8" y1="442.3" x2="132.8" y2="612.5" stroke="#d0d0d0" stroke-width="2.6"/>
<line x1="76.6" y1="442.3" x2="76.6" y2="612.5" stroke="#aaa" stroke-width="0.9"/>
<line x1="85" y1="442.3" x2="85" y2="612.5" stroke="#aaa" stroke-width="0.9"/>
<line x1="87.5" y1="442.3" x2="87.5" y2="612.5" stroke="#b0b0b0" stroke-width="1.3"/>
<line x1="99.6" y1="442.3" x2="99.6" y2="612.5" stroke="#aaa" stroke-width="0.9"/>
<line x1="123.7" y1="442.3" x2="123.7" y2="612.5" stroke="#aaa" stroke-width="0.9"/>
<line x1="159.8" y1="442.3" x2="159.8" y2="612.5" stroke="#aaa" stroke-width="1"/>
<line x1="181.9" y1="442.3" x2="181.9" y2="612.5" stroke="#aaa" stroke-width="1"/>
<line x1="189.2" y1="442.3" x2="189.2" y2="612.5" stroke="#aaa" stroke-width="1"/>
<line x1="203.1" y1="442.3" x2="203.1" y2="612.5" stroke="#aaa" stroke-width="1"/>
<line x1="238.8" y1="442.3" x2="238.8" y2="612.5" stroke="#aaa" stroke-width="1"/>
<line x1="348.7" y1="442.3" x2="348.7" y2="612.5" stroke="#aaa" stroke-width="1"/>
<line x1="364.6" y1="442.3" x2="364.6" y2="612.5" stroke="#aaa" stroke-width="1"/>
<line x1="383" y1="442.3" x2="383" y2="612.5" stroke="#aaa" stroke-width="1"/>
<line x1="385.7" y1="442.3" x2="385.7" y2="612.5" stroke="#aaa" stroke-width="1"/>
<line x1="389.3" y1="442.3" x2="389.3" y2="612.5" stroke="#aaa" stroke-width="1"/>
<line x1="411.4" y1="442.3" x2="411.4" y2="612.5" stroke="#aaa" stroke-width="1"/>
<line x1="414" y1="442.3" x2="414" y2="612.5" stroke="#aaa" stroke-width="1"/>
<line x1="425.4" y1="442.3" x2="425.4" y2="612.5" stroke="#aaa" stroke-width="1"/>
<line x1="439.2" y1="442.3" x2="439.2" y2="612.5" stroke="#aaa" stroke-width="1"/>
<line x1="458.7" y1="442.3" x2="458.7" y2="612.5" stroke="#aaa" stroke-width="1"/>
<line x1="473.5" y1="442.3" x2="473.5" y2="612.5" stroke="#aaa" stroke-width="1"/>
<line x1="48" y1="459.5" x2="478" y2="459.5" stroke="#cfcfcf" stroke-width="0.9" stroke-dasharray="5,5"/>
<line x1="48" y1="597.3" x2="478" y2="597.3" stroke="#cfcfcf" stroke-width="0.9" stroke-dasharray="5,5"/>
<line x1="226.7" y1="442.3" x2="226.7" y2="612.5" stroke="#222" stroke-width="1.3" stroke-dasharray="2.6,1.8"/>
<line x1="294.6" y1="442.3" x2="294.6" y2="612.5" stroke="#222" stroke-width="1.3" stroke-dasharray="2.6,1.8"/>
<line x1="322.7" y1="442.3" x2="322.7" y2="612.5" stroke="#222" stroke-width="1.3" stroke-dasharray="2.6,1.8"/>
<line x1="418.9" y1="442.3" x2="418.9" y2="612.5" stroke="#222" stroke-width="1.3" stroke-dasharray="2.6,1.8"/>
<line x1="46.7" y1="447.2" x2="46.7" y2="614" stroke="#111" stroke-width="1.4"/>
<line x1="43.6" y1="585.58" x2="46.7" y2="585.58" stroke="#111" stroke-width="1"/>
<text x="40.80" y="588.28" font-size="7.8" text-anchor="end" fill="#333" >-6</text>
<line x1="43.6" y1="575.90" x2="46.7" y2="575.90" stroke="#111" stroke-width="1"/>
<text x="40.80" y="578.60" font-size="7.8" text-anchor="end" fill="#333" >-5</text>
<line x1="43.6" y1="566.22" x2="46.7" y2="566.22" stroke="#111" stroke-width="1"/>
<text x="40.80" y="568.92" font-size="7.8" text-anchor="end" fill="#333" >-4</text>
<line x1="43.6" y1="556.54" x2="46.7" y2="556.54" stroke="#111" stroke-width="1"/>
<text x="40.80" y="559.24" font-size="7.8" text-anchor="end" fill="#333" >-3</text>
<line x1="43.6" y1="546.86" x2="46.7" y2="546.86" stroke="#111" stroke-width="1"/>
<text x="40.80" y="549.56" font-size="7.8" text-anchor="end" fill="#333" >-2</text>
<line x1="43.6" y1="537.18" x2="46.7" y2="537.18" stroke="#111" stroke-width="1"/>
<text x="40.80" y="539.88" font-size="7.8" text-anchor="end" fill="#333" >-1</text>
<line x1="43.6" y1="527.50" x2="46.7" y2="527.50" stroke="#111" stroke-width="1"/>
<text x="40.80" y="530.20" font-size="7.8" text-anchor="end" fill="#333" >0</text>
<line x1="43.6" y1="517.82" x2="46.7" y2="517.82" stroke="#111" stroke-width="1"/>
<text x="40.80" y="520.52" font-size="7.8" text-anchor="end" fill="#333" >1</text>
<line x1="43.6" y1="508.14" x2="46.7" y2="508.14" stroke="#111" stroke-width="1"/>
<text x="40.80" y="510.84" font-size="7.8" text-anchor="end" fill="#333" >2</text>
<line x1="43.6" y1="498.46" x2="46.7" y2="498.46" stroke="#111" stroke-width="1"/>
<text x="40.80" y="501.16" font-size="7.8" text-anchor="end" fill="#333" >3</text>
<line x1="43.6" y1="488.78" x2="46.7" y2="488.78" stroke="#111" stroke-width="1"/>
<text x="40.80" y="491.48" font-size="7.8" text-anchor="end" fill="#333" >4</text>
<line x1="43.6" y1="479.10" x2="46.7" y2="479.10" stroke="#111" stroke-width="1"/>
<text x="40.80" y="481.80" font-size="7.8" text-anchor="end" fill="#333" >5</text>
<line x1="43.6" y1="469.42" x2="46.7" y2="469.42" stroke="#111" stroke-width="1"/>
<text x="40.80" y="472.12" font-size="7.8" text-anchor="end" fill="#333" >6</text>
<line x1="43.6" y1="450" x2="46.7" y2="450" stroke="#111" stroke-width="1"/>
<line x1="43.6" y1="605.8" x2="46.7" y2="605.8" stroke="#111" stroke-width="1"/>
<text x="40.50" y="447.80" font-size="8" text-anchor="end" fill="#333" >Human</text>
<text x="40.50" y="458.00" font-size="8" text-anchor="end" fill="#333" >only</text>
<text x="40.50" y="603.50" font-size="8" text-anchor="end" fill="#333" >Mouse</text>
<text x="40.50" y="613.50" font-size="8" text-anchor="end" fill="#333" >only</text>
<text transform="translate(31,526.6) rotate(-90)" font-size="8.5" text-anchor="middle" fill="#333" textLength="117" lengthAdjust="spacingAndGlyphs">Log2 FC lipid levels (mouse/human)</text>
<circle cx="54.75" cy="450.2" r="1.45" fill="#111"/>
<circle cx="56.90" cy="450.2" r="1.45" fill="#111"/>
<circle cx="63.10" cy="450.2" r="1.45" fill="#111"/>
<circle cx="65.00" cy="450.2" r="1.45" fill="#111"/>
<circle cx="66.50" cy="450.2" r="1.45" fill="#111"/>
<circle cx="75.00" cy="450.2" r="1.45" fill="#111"/>
<circle cx="76.84" cy="450.2" r="1.45" fill="#111"/>
<circle cx="78.69" cy="450.2" r="1.45" fill="#111"/>
<circle cx="80.53" cy="450.2" r="1.45" fill="#111"/>
<circle cx="82.38" cy="450.2" r="1.45" fill="#111"/>
<circle cx="84.22" cy="450.2" r="1.45" fill="#111"/>
<circle cx="86.06" cy="450.2" r="1.45" fill="#111"/>
<circle cx="87.91" cy="450.2" r="1.45" fill="#111"/>
<circle cx="89.75" cy="450.2" r="1.45" fill="#111"/>
<circle cx="94.40" cy="450.2" r="1.45" fill="#111"/>
<circle cx="96.90" cy="450.2" r="1.45" fill="#111"/>
<circle cx="100.00" cy="450.2" r="1.45" fill="#111"/>
<circle cx="102.75" cy="450.2" r="1.45" fill="#111"/>
<circle cx="106.25" cy="450.2" r="1.45" fill="#111"/>
<circle cx="107.25" cy="450.2" r="1.45" fill="#111"/>
<circle cx="113.50" cy="450.2" r="1.45" fill="#111"/>
<circle cx="115.60" cy="450.2" r="1.45" fill="#111"/>
<circle cx="119.40" cy="450.2" r="1.45" fill="#111"/>
<circle cx="126.90" cy="450.2" r="1.45" fill="#111"/>
<circle cx="129.40" cy="450.2" r="1.45" fill="#111"/>
<circle cx="131.25" cy="450.2" r="1.45" fill="#111"/>
<circle cx="137.25" cy="450.2" r="1.45" fill="#111"/>
<circle cx="139.68" cy="450.2" r="1.45" fill="#111"/>
<circle cx="142.11" cy="450.2" r="1.45" fill="#111"/>
<circle cx="144.54" cy="450.2" r="1.45" fill="#111"/>
<circle cx="146.97" cy="450.2" r="1.45" fill="#111"/>
<circle cx="149.40" cy="450.2" r="1.45" fill="#111"/>
<circle cx="153.10" cy="450.2" r="1.45" fill="#111"/>
<circle cx="155.03" cy="450.2" r="1.45" fill="#111"/>
<circle cx="156.96" cy="450.2" r="1.45" fill="#111"/>
<circle cx="158.89" cy="450.2" r="1.45" fill="#111"/>
<circle cx="160.82" cy="450.2" r="1.45" fill="#111"/>
<circle cx="162.75" cy="450.2" r="1.45" fill="#111"/>
<circle cx="164.68" cy="450.2" r="1.45" fill="#111"/>
<circle cx="166.60" cy="450.2" r="1.45" fill="#111"/>
<circle cx="168.53" cy="450.2" r="1.45" fill="#111"/>
<circle cx="170.46" cy="450.2" r="1.45" fill="#111"/>
<circle cx="172.39" cy="450.2" r="1.45" fill="#111"/>
<circle cx="174.32" cy="450.2" r="1.45" fill="#111"/>
<circle cx="176.25" cy="450.2" r="1.45" fill="#111"/>
<circle cx="183.10" cy="450.2" r="1.45" fill="#111"/>
<circle cx="185.00" cy="450.2" r="1.45" fill="#111"/>
<circle cx="188.10" cy="450.2" r="1.45" fill="#111"/>
<circle cx="195.00" cy="450.2" r="1.45" fill="#111"/>
<circle cx="197.50" cy="450.2" r="1.45" fill="#111"/>
<circle cx="200.00" cy="450.2" r="1.45" fill="#111"/>
<circle cx="206.90" cy="450.2" r="1.45" fill="#111"/>
<circle cx="208.77" cy="450.2" r="1.45" fill="#111"/>
<circle cx="210.64" cy="450.2" r="1.45" fill="#111"/>
<circle cx="212.51" cy="450.2" r="1.45" fill="#111"/>
<circle cx="214.38" cy="450.2" r="1.45" fill="#111"/>
<circle cx="216.25" cy="450.2" r="1.45" fill="#111"/>
<circle cx="222.50" cy="450.2" r="1.45" fill="#111"/>
<circle cx="223.75" cy="450.2" r="1.45" fill="#111"/>
<circle cx="225.00" cy="450.2" r="1.45" fill="#111"/>
<circle cx="226.25" cy="450.2" r="1.45" fill="#111"/>
<circle cx="231.25" cy="450.2" r="1.45" fill="#111"/>
<circle cx="239.40" cy="450.2" r="1.45" fill="#111"/>
<circle cx="240.88" cy="450.2" r="1.45" fill="#111"/>
<circle cx="242.36" cy="450.2" r="1.45" fill="#111"/>
<circle cx="243.85" cy="450.2" r="1.45" fill="#111"/>
<circle cx="245.33" cy="450.2" r="1.45" fill="#111"/>
<circle cx="246.81" cy="450.2" r="1.45" fill="#111"/>
<circle cx="248.29" cy="450.2" r="1.45" fill="#111"/>
<circle cx="249.78" cy="450.2" r="1.45" fill="#111"/>
<circle cx="251.26" cy="450.2" r="1.45" fill="#111"/>
<circle cx="252.74" cy="450.2" r="1.45" fill="#111"/>
<circle cx="254.22" cy="450.2" r="1.45" fill="#111"/>
<circle cx="255.71" cy="450.2" r="1.45" fill="#111"/>
<circle cx="257.19" cy="450.2" r="1.45" fill="#111"/>
<circle cx="258.67" cy="450.2" r="1.45" fill="#111"/>
<circle cx="260.15" cy="450.2" r="1.45" fill="#111"/>
<circle cx="261.64" cy="450.2" r="1.45" fill="#111"/>
<circle cx="263.12" cy="450.2" r="1.45" fill="#111"/>
<circle cx="264.60" cy="450.2" r="1.45" fill="#111"/>
<circle cx="266.08" cy="450.2" r="1.45" fill="#111"/>
<circle cx="267.57" cy="450.2" r="1.45" fill="#111"/>
<circle cx="269.05" cy="450.2" r="1.45" fill="#111"/>
<circle cx="270.53" cy="450.2" r="1.45" fill="#111"/>
<circle cx="272.01" cy="450.2" r="1.45" fill="#111"/>
<circle cx="273.50" cy="450.2" r="1.45" fill="#111"/>
<circle cx="274.98" cy="450.2" r="1.45" fill="#111"/>
<circle cx="276.46" cy="450.2" r="1.45" fill="#111"/>
<circle cx="277.94" cy="450.2" r="1.45" fill="#111"/>
<circle cx="279.43" cy="450.2" r="1.45" fill="#111"/>
<circle cx="280.91" cy="450.2" r="1.45" fill="#111"/>
<circle cx="282.39" cy="450.2" r="1.45" fill="#111"/>
<circle cx="283.87" cy="450.2" r="1.45" fill="#111"/>
<circle cx="285.36" cy="450.2" r="1.45" fill="#111"/>
<circle cx="286.84" cy="450.2" r="1.45" fill="#111"/>
<circle cx="288.32" cy="450.2" r="1.45" fill="#111"/>
<circle cx="289.80" cy="450.2" r="1.45" fill="#111"/>
<circle cx="291.29" cy="450.2" r="1.45" fill="#111"/>
<circle cx="292.77" cy="450.2" r="1.45" fill="#111"/>
<circle cx="294.25" cy="450.2" r="1.45" fill="#111"/>
<circle cx="296.75" cy="450.2" r="1.45" fill="#111"/>
<circle cx="298.75" cy="450.2" r="1.45" fill="#111"/>
<circle cx="300.75" cy="450.2" r="1.45" fill="#111"/>
<circle cx="302.75" cy="450.2" r="1.45" fill="#111"/>
<circle cx="304.75" cy="450.2" r="1.45" fill="#111"/>
<circle cx="306.75" cy="450.2" r="1.45" fill="#111"/>
<circle cx="318.60" cy="450.2" r="1.45" fill="#111"/>
<circle cx="320.50" cy="450.2" r="1.45" fill="#111"/>
<circle cx="322.40" cy="450.2" r="1.45" fill="#111"/>
<circle cx="324.25" cy="450.2" r="1.45" fill="#111"/>
<circle cx="326.75" cy="450.2" r="1.45" fill="#111"/>
<circle cx="328.60" cy="450.2" r="1.45" fill="#111"/>
<circle cx="331.10" cy="450.2" r="1.45" fill="#111"/>
<circle cx="333.60" cy="450.2" r="1.45" fill="#111"/>
<circle cx="338.60" cy="450.2" r="1.45" fill="#111"/>
<circle cx="351.10" cy="450.2" r="1.45" fill="#111"/>
<circle cx="350.20" cy="450.2" r="1.45" fill="#111"/>
<circle cx="351.75" cy="450.2" r="1.45" fill="#111"/>
<circle cx="353.30" cy="450.2" r="1.45" fill="#111"/>
<circle cx="354.85" cy="450.2" r="1.45" fill="#111"/>
<circle cx="356.40" cy="450.2" r="1.45" fill="#111"/>
<circle cx="357.95" cy="450.2" r="1.45" fill="#111"/>
<circle cx="359.50" cy="450.2" r="1.45" fill="#111"/>
<circle cx="361.05" cy="450.2" r="1.45" fill="#111"/>
<circle cx="362.60" cy="450.2" r="1.45" fill="#111"/>
<circle cx="364.15" cy="450.2" r="1.45" fill="#111"/>
<circle cx="365.70" cy="450.2" r="1.45" fill="#111"/>
<circle cx="367.25" cy="450.2" r="1.45" fill="#111"/>
<circle cx="368.80" cy="450.2" r="1.45" fill="#111"/>
<circle cx="370.35" cy="450.2" r="1.45" fill="#111"/>
<circle cx="371.90" cy="450.2" r="1.45" fill="#111"/>
<circle cx="373.45" cy="450.2" r="1.45" fill="#111"/>
<circle cx="375.00" cy="450.2" r="1.45" fill="#111"/>
<circle cx="427.30" cy="450.2" r="1.45" fill="#111"/>
<circle cx="429.50" cy="450.2" r="1.45" fill="#111"/>
<circle cx="431.60" cy="450.2" r="1.45" fill="#111"/>
<circle cx="439.60" cy="450.2" r="1.45" fill="#111"/>
<circle cx="441.90" cy="450.2" r="1.45" fill="#111"/>
<circle cx="444.20" cy="450.2" r="1.45" fill="#111"/>
<circle cx="51.90" cy="606" r="1.45" fill="#111"/>
<circle cx="53.75" cy="606" r="1.45" fill="#111"/>
<circle cx="55.60" cy="606" r="1.45" fill="#111"/>
<circle cx="59.40" cy="606" r="1.45" fill="#111"/>
<circle cx="61.25" cy="606" r="1.45" fill="#111"/>
<circle cx="63.10" cy="606" r="1.45" fill="#111"/>
<circle cx="67.25" cy="606" r="1.45" fill="#111"/>
<circle cx="71.25" cy="606" r="1.45" fill="#111"/>
<circle cx="73.10" cy="606" r="1.45" fill="#111"/>
<circle cx="75.00" cy="606" r="1.45" fill="#111"/>
<circle cx="76.90" cy="606" r="1.45" fill="#111"/>
<circle cx="91.90" cy="606" r="1.45" fill="#111"/>
<circle cx="98.75" cy="606" r="1.45" fill="#111"/>
<circle cx="100.60" cy="606" r="1.45" fill="#111"/>
<circle cx="102.50" cy="606" r="1.45" fill="#111"/>
<circle cx="108.75" cy="606" r="1.45" fill="#111"/>
<circle cx="108.75" cy="606" r="1.45" fill="#111"/>
<circle cx="114.40" cy="606" r="1.45" fill="#111"/>
<circle cx="124.40" cy="606" r="1.45" fill="#111"/>
<circle cx="133.10" cy="606" r="1.45" fill="#111"/>
<circle cx="145.25" cy="606" r="1.45" fill="#111"/>
<circle cx="151.90" cy="606" r="1.45" fill="#111"/>
<circle cx="161.90" cy="606" r="1.45" fill="#111"/>
<circle cx="174.00" cy="606" r="1.45" fill="#111"/>
<circle cx="180.60" cy="606" r="1.45" fill="#111"/>
<circle cx="182.50" cy="606" r="1.45" fill="#111"/>
<circle cx="184.40" cy="606" r="1.45" fill="#111"/>
<circle cx="189.40" cy="606" r="1.45" fill="#111"/>
<circle cx="191.25" cy="606" r="1.45" fill="#111"/>
<circle cx="193.10" cy="606" r="1.45" fill="#111"/>
<circle cx="198.10" cy="606" r="1.45" fill="#111"/>
<circle cx="203.10" cy="606" r="1.45" fill="#111"/>
<circle cx="205.00" cy="606" r="1.45" fill="#111"/>
<circle cx="214.75" cy="606" r="1.45" fill="#111"/>
<circle cx="221.25" cy="606" r="1.45" fill="#111"/>
<circle cx="222.94" cy="606" r="1.45" fill="#111"/>
<circle cx="224.62" cy="606" r="1.45" fill="#111"/>
<circle cx="226.31" cy="606" r="1.45" fill="#111"/>
<circle cx="227.99" cy="606" r="1.45" fill="#111"/>
<circle cx="229.68" cy="606" r="1.45" fill="#111"/>
<circle cx="231.36" cy="606" r="1.45" fill="#111"/>
<circle cx="233.04" cy="606" r="1.45" fill="#111"/>
<circle cx="234.73" cy="606" r="1.45" fill="#111"/>
<circle cx="236.41" cy="606" r="1.45" fill="#111"/>
<circle cx="238.10" cy="606" r="1.45" fill="#111"/>
<circle cx="268.75" cy="606" r="1.45" fill="#111"/>
<circle cx="310.90" cy="606" r="1.45" fill="#111"/>
<circle cx="348.60" cy="606" r="1.45" fill="#111"/>
<circle cx="370.90" cy="606" r="1.45" fill="#111"/>
<circle cx="383.00" cy="606" r="1.45" fill="#111"/>
<circle cx="402.00" cy="606" r="1.45" fill="#111"/>
<circle cx="404.80" cy="606" r="1.45" fill="#111"/>
<circle cx="408.80" cy="606" r="1.45" fill="#111"/>
<circle cx="415.80" cy="606" r="1.45" fill="#111"/>
<circle cx="418.50" cy="606" r="1.45" fill="#111"/>
<circle cx="423.10" cy="606" r="1.45" fill="#111"/>
<circle cx="425.20" cy="606" r="1.45" fill="#111"/>
<circle cx="442.80" cy="606" r="1.45" fill="#111"/>
<circle cx="57.3" cy="494.8" r="3.5" fill="#dc7476" stroke="#1c1c1c" stroke-width="1.5"/>
<circle cx="58.8" cy="531.3" r="1.7" fill="#a87a8c" stroke="#1c1c1c" stroke-width="1.5"/>
<circle cx="70.4" cy="524.4" r="2" fill="#b8b04a" stroke="#1c1c1c" stroke-width="1.5"/>
<circle cx="68.5" cy="526.9" r="2" fill="#b8b04a" stroke="#1c1c1c" stroke-width="1.5"/>
<circle cx="66.5" cy="532.3" r="2.2" fill="#b8b04a" stroke="#1c1c1c" stroke-width="1.5"/>
<circle cx="69.4" cy="537.5" r="2.7" fill="#b8b04a" stroke="#1c1c1c" stroke-width="1.5"/>
<circle cx="85.2" cy="524" r="1.7" fill="#9cb04e" stroke="#1c1c1c" stroke-width="1.5"/>
<circle cx="95.4" cy="531.2" r="2.2" fill="#7cb070" stroke="#1c1c1c" stroke-width="1.5"/>
<circle cx="86.7" cy="541.9" r="2.8" fill="#7cb070" stroke="#1c1c1c" stroke-width="1.5"/>
<circle cx="78.5" cy="555.8" r="3.5" fill="#b8b04a" stroke="#1c1c1c" stroke-width="1.5"/>
<circle cx="60.8" cy="560.6" r="4.5" fill="#dc7476" stroke="#1c1c1c" stroke-width="1.5"/>
<circle cx="81" cy="566.9" r="2.8" fill="#b8b04a" stroke="#1c1c1c" stroke-width="1.5"/>
<circle cx="84.2" cy="571.2" r="2.5" fill="#b8b04a" stroke="#1c1c1c" stroke-width="1.5"/>
<circle cx="89" cy="568.5" r="2.5" fill="#7cb070" stroke="#1c1c1c" stroke-width="1.5"/>
<circle cx="90.6" cy="554.8" r="2" fill="#7cb070" stroke="#1c1c1c" stroke-width="1.5"/>
<circle cx="93.5" cy="551.5" r="2" fill="#7cb070" stroke="#1c1c1c" stroke-width="1.5"/>
<circle cx="96.7" cy="550" r="2.2" fill="#7cb070" stroke="#1c1c1c" stroke-width="1.5"/>
<circle cx="97.3" cy="576.9" r="3" fill="#7cb070" stroke="#1c1c1c" stroke-width="1.5"/>
<circle cx="104" cy="552.9" r="2.3" fill="#68b492" stroke="#1c1c1c" stroke-width="1.5"/>
<circle cx="105.4" cy="536.5" r="2" fill="#68b492" stroke="#1c1c1c" stroke-width="1.5"/>
<circle cx="106.3" cy="504" r="3.5" fill="#68b492" stroke="#1c1c1c" stroke-width="1.5"/>
<circle cx="101.2" cy="516.3" r="2.5" fill="#68b492" stroke="#1c1c1c" stroke-width="1.5"/>
<circle cx="111.2" cy="533" r="2" fill="#68b492" stroke="#1c1c1c" stroke-width="1.5"/>
<circle cx="113" cy="534.6" r="2.5" fill="#68b492" stroke="#1c1c1c" stroke-width="1.5"/>
<circle cx="110.2" cy="544.2" r="3.5" fill="#64b6a4" stroke="#1c1c1c" stroke-width="1.5"/>
<circle cx="112.1" cy="539.4" r="2.2" fill="#64b6a4" stroke="#1c1c1c" stroke-width="1.5"/>
<circle cx="116.5" cy="546.2" r="2.5" fill="#64b6a4" stroke="#1c1c1c" stroke-width="1.5"/>
<circle cx="117.9" cy="540" r="2.5" fill="#64b6a4" stroke="#1c1c1c" stroke-width="1.5"/>
<circle cx="120.8" cy="542.3" r="3" fill="#64b6a4" stroke="#1c1c1c" stroke-width="1.5"/>
<circle cx="121.7" cy="548.5" r="3.5" fill="#64b6a4" stroke="#1c1c1c" stroke-width="1.5"/>
<circle cx="123" cy="541.3" r="2.5" fill="#64b6a4" stroke="#1c1c1c" stroke-width="1.5"/>
<circle cx="122.7" cy="534.6" r="2.5" fill="#64b6a4" stroke="#1c1c1c" stroke-width="1.5"/>
<circle cx="126.5" cy="537.5" r="3" fill="#84b6d6" stroke="#1c1c1c" stroke-width="1.5"/>
<circle cx="131.9" cy="536.5" r="3" fill="#84b6d6" stroke="#1c1c1c" stroke-width="1.5"/>
<circle cx="130" cy="546.7" r="2.5" fill="#84b6d6" stroke="#1c1c1c" stroke-width="1.5"/>
<circle cx="125.6" cy="524.6" r="2.2" fill="#84b6d6" stroke="#1c1c1c" stroke-width="1.5"/>
<circle cx="118.5" cy="527.9" r="1.2" fill="#555" stroke="#1c1c1c" stroke-width="1.5"/>
<circle cx="133.8" cy="489.6" r="2.7" fill="#84b6d6" stroke="#1c1c1c" stroke-width="1.5"/>
<circle cx="134.6" cy="500.2" r="2.5" fill="#84b6d6" stroke="#1c1c1c" stroke-width="1.5"/>
<circle cx="136.7" cy="515" r="2.2" fill="#84b6d6" stroke="#1c1c1c" stroke-width="1.5"/>
<circle cx="135.6" cy="519.6" r="2" fill="#84b6d6" stroke="#1c1c1c" stroke-width="1.5"/>
<circle cx="141.5" cy="533.7" r="2.5" fill="#7ca0d2" stroke="#1c1c1c" stroke-width="1.5"/>
<circle cx="143.5" cy="497.7" r="2.7" fill="#7ca0d2" stroke="#1c1c1c" stroke-width="1.5"/>
<circle cx="156.9" cy="497.3" r="2.7" fill="#7ca0d2" stroke="#1c1c1c" stroke-width="1.5"/>
<circle cx="151.2" cy="507.3" r="2.5" fill="#7ca0d2" stroke="#1c1c1c" stroke-width="1.5"/>
<circle cx="150.2" cy="514.6" r="3" fill="#84b6d6" stroke="#1c1c1c" stroke-width="1.5"/>
<circle cx="148.3" cy="517.9" r="3" fill="#7ca0d2" stroke="#1c1c1c" stroke-width="1.5"/>
<circle cx="157.9" cy="521.2" r="2.5" fill="#84b6d6" stroke="#1c1c1c" stroke-width="1.5"/>
<circle cx="154.6" cy="523.3" r="2.5" fill="#7ca0d2" stroke="#1c1c1c" stroke-width="1.5"/>
<circle cx="142.5" cy="523.7" r="1.5" fill="#555" stroke="#1c1c1c" stroke-width="1.5"/>
<circle cx="147.3" cy="527.5" r="1.3" fill="#555" stroke="#1c1c1c" stroke-width="1.5"/>
<circle cx="166.5" cy="530.2" r="2.3" fill="#9894c6" stroke="#1c1c1c" stroke-width="1.5"/>
<circle cx="180" cy="509.2" r="4" fill="#9894c6" stroke="#1c1c1c" stroke-width="1.5"/>
<circle cx="185.8" cy="513.7" r="2.5" fill="#9894c6" stroke="#1c1c1c" stroke-width="1.5"/>
<circle cx="186.7" cy="500" r="2.5" fill="#9894c6" stroke="#1c1c1c" stroke-width="1.5"/>
<circle cx="194.4" cy="525.6" r="2" fill="#b884b0" stroke="#1c1c1c" stroke-width="1.5"/>
<circle cx="204" cy="522.3" r="2" fill="#b884b0" stroke="#1c1c1c" stroke-width="1.5"/>
<circle cx="208.7" cy="465" r="3" fill="#d4728e" stroke="#1c1c1c" stroke-width="1.5"/>
<circle cx="220.4" cy="524.6" r="1.7" fill="#555" stroke="#1c1c1c" stroke-width="1.5"/>
<circle cx="219.4" cy="527" r="1.5" fill="#555" stroke="#1c1c1c" stroke-width="1.5"/>
<circle cx="228" cy="526.5" r="1.5" fill="#555" stroke="#1c1c1c" stroke-width="1.5"/>
<circle cx="160.8" cy="555.4" r="3" fill="#9894c6" stroke="#1c1c1c" stroke-width="1.5"/>
<circle cx="167.5" cy="553" r="3" fill="#9894c6" stroke="#1c1c1c" stroke-width="1.5"/>
<circle cx="173.3" cy="552.1" r="3" fill="#9894c6" stroke="#1c1c1c" stroke-width="1.5"/>
<circle cx="179" cy="561.2" r="3" fill="#9894c6" stroke="#1c1c1c" stroke-width="1.5"/>
<circle cx="165.6" cy="566" r="3.2" fill="#9894c6" stroke="#1c1c1c" stroke-width="1.5"/>
<circle cx="172.3" cy="569.2" r="3" fill="#9894c6" stroke="#1c1c1c" stroke-width="1.5"/>
<circle cx="178.5" cy="574.6" r="3" fill="#9894c6" stroke="#1c1c1c" stroke-width="1.5"/>
<circle cx="196.3" cy="534.6" r="3" fill="#b884b0" stroke="#1c1c1c" stroke-width="1.5"/>
<circle cx="195.4" cy="539" r="3" fill="#b884b0" stroke="#1c1c1c" stroke-width="1.5"/>
<circle cx="201.2" cy="536.5" r="3" fill="#b884b0" stroke="#1c1c1c" stroke-width="1.5"/>
<circle cx="202.1" cy="543.8" r="3.2" fill="#b884b0" stroke="#1c1c1c" stroke-width="1.5"/>
<circle cx="206.9" cy="539" r="2.5" fill="#b884b0" stroke="#1c1c1c" stroke-width="1.5"/>
<circle cx="213.7" cy="538" r="2.2" fill="#d4728e" stroke="#1c1c1c" stroke-width="1.5"/>
<circle cx="211.7" cy="544.8" r="3" fill="#d4728e" stroke="#1c1c1c" stroke-width="1.5"/>
<circle cx="206" cy="566" r="3.5" fill="#d4728e" stroke="#1c1c1c" stroke-width="1.5"/>
<circle cx="221.3" cy="549.6" r="3.5" fill="#e07c7a" stroke="#1c1c1c" stroke-width="1.5"/>
<circle cx="226.2" cy="548.6" r="3" fill="#e07c7a" stroke="#1c1c1c" stroke-width="1.5"/>
<circle cx="228" cy="531.3" r="2" fill="#e07c7a" stroke="#1c1c1c" stroke-width="1.5"/>
<circle cx="221.9" cy="547.7" r="3.5" fill="#d4728e" stroke="#1c1c1c" stroke-width="1.5"/>
<circle cx="228.7" cy="550" r="2.5" fill="#e07c7a" stroke="#1c1c1c" stroke-width="1.5"/>
<circle cx="231.5" cy="555" r="2.5" fill="#e07c7a" stroke="#1c1c1c" stroke-width="1.5"/>
<circle cx="233.5" cy="559.8" r="2.5" fill="#e07c7a" stroke="#1c1c1c" stroke-width="1.5"/>
<circle cx="236.3" cy="563.5" r="2.5" fill="#e07c7a" stroke="#1c1c1c" stroke-width="1.5"/>
<circle cx="236.9" cy="534.8" r="3" fill="#e07c7a" stroke="#1c1c1c" stroke-width="1.5"/>
<circle cx="233.5" cy="542.9" r="3" fill="#e07c7a" stroke="#1c1c1c" stroke-width="1.5"/>
<circle cx="253.7" cy="518.8" r="2.5" fill="#a0d0d0" stroke="#1c1c1c" stroke-width="1.5"/>
<circle cx="269.6" cy="535.2" r="2.2" fill="#68b8c2" stroke="#1c1c1c" stroke-width="1.5"/>
<circle cx="272.3" cy="535.8" r="2.2" fill="#68b8c2" stroke="#1c1c1c" stroke-width="1.5"/>
<circle cx="257.5" cy="541.9" r="3" fill="#68b8c2" stroke="#1c1c1c" stroke-width="1.5"/>
<circle cx="250.8" cy="546.7" r="3.5" fill="#68b8c2" stroke="#1c1c1c" stroke-width="1.5"/>
<circle cx="248.5" cy="551.5" r="3" fill="#68b8c2" stroke="#1c1c1c" stroke-width="1.5"/>
<circle cx="241.5" cy="554.4" r="3" fill="#68b8c2" stroke="#1c1c1c" stroke-width="1.5"/>
<circle cx="246" cy="554.4" r="2.5" fill="#68b8c2" stroke="#1c1c1c" stroke-width="1.5"/>
<circle cx="254.6" cy="554.4" r="2.5" fill="#68b8c2" stroke="#1c1c1c" stroke-width="1.5"/>
<circle cx="259.4" cy="552.5" r="3" fill="#68b8c2" stroke="#1c1c1c" stroke-width="1.5"/>
<circle cx="261.3" cy="555.4" r="3" fill="#68b8c2" stroke="#1c1c1c" stroke-width="1.5"/>
<circle cx="265.8" cy="549.6" r="3.5" fill="#68b8c2" stroke="#1c1c1c" stroke-width="1.5"/>
<circle cx="271" cy="555.4" r="3" fill="#68b8c2" stroke="#1c1c1c" stroke-width="1.5"/>
<circle cx="272.9" cy="549.2" r="2.5" fill="#68b8c2" stroke="#1c1c1c" stroke-width="1.5"/>
<circle cx="276.7" cy="544.8" r="3" fill="#68b8c2" stroke="#1c1c1c" stroke-width="1.5"/>
<circle cx="281.5" cy="542.3" r="3" fill="#68b8c2" stroke="#1c1c1c" stroke-width="1.5"/>
<circle cx="285.4" cy="540" r="3.5" fill="#68b8c2" stroke="#1c1c1c" stroke-width="1.5"/>
<circle cx="287.3" cy="541.9" r="4" fill="#68b8c2" stroke="#1c1c1c" stroke-width="1.5"/>
<circle cx="290.2" cy="545.4" r="3.5" fill="#68b8c2" stroke="#1c1c1c" stroke-width="1.5"/>
<circle cx="284.4" cy="548.1" r="3" fill="#68b8c2" stroke="#1c1c1c" stroke-width="1.5"/>
<circle cx="265.8" cy="564" r="3.5" fill="#68b8c2" stroke="#1c1c1c" stroke-width="1.5"/>
<circle cx="259.4" cy="566.9" r="3" fill="#68b8c2" stroke="#1c1c1c" stroke-width="1.5"/>
<circle cx="272.3" cy="566" r="3" fill="#68b8c2" stroke="#1c1c1c" stroke-width="1.5"/>
<circle cx="263.3" cy="576.9" r="3" fill="#68b8c2" stroke="#1c1c1c" stroke-width="1.5"/>
<circle cx="274.8" cy="579.4" r="3" fill="#68b8c2" stroke="#1c1c1c" stroke-width="1.5"/>
<circle cx="298.5" cy="550.2" r="3.5" fill="#e07c7a" stroke="#1c1c1c" stroke-width="1.5"/>
<circle cx="303.7" cy="542.5" r="3.5" fill="#e07c7a" stroke="#1c1c1c" stroke-width="1.5"/>
<circle cx="311.3" cy="551.9" r="4" fill="#e07c7a" stroke="#1c1c1c" stroke-width="1.5"/>
<circle cx="305.6" cy="560.2" r="3.5" fill="#e07c7a" stroke="#1c1c1c" stroke-width="1.5"/>
<circle cx="310" cy="535.2" r="2.5" fill="#e07c7a" stroke="#1c1c1c" stroke-width="1.5"/>
<circle cx="316.5" cy="534.3" r="4" fill="#68b8c2" stroke="#1c1c1c" stroke-width="1.5"/>
<circle cx="376.6" cy="478" r="3.5" fill="#9cb04e" stroke="#1c1c1c" stroke-width="1.5"/>
<circle cx="380.9" cy="487.6" r="4" fill="#9cb04e" stroke="#1c1c1c" stroke-width="1.5"/>
<circle cx="378.1" cy="491.8" r="3" fill="#9cb04e" stroke="#1c1c1c" stroke-width="1.5"/>
<circle cx="371.8" cy="494.6" r="3.5" fill="#9cb04e" stroke="#1c1c1c" stroke-width="1.5"/>
<circle cx="369.9" cy="506" r="3.5" fill="#9cb04e" stroke="#1c1c1c" stroke-width="1.5"/>
<circle cx="369.2" cy="516.4" r="3" fill="#9cb04e" stroke="#1c1c1c" stroke-width="1.5"/>
<circle cx="387.6" cy="499.7" r="3" fill="#64b6a4" stroke="#1c1c1c" stroke-width="1.5"/>
<circle cx="391.9" cy="521.6" r="3" fill="#9894c6" stroke="#1c1c1c" stroke-width="1.5"/>
<circle cx="413.7" cy="509.8" r="2.5" fill="#a084b4" stroke="#1c1c1c" stroke-width="1.5"/>
<circle cx="406.9" cy="520.4" r="2.2" fill="#9894c6" stroke="#1c1c1c" stroke-width="1.5"/>
<circle cx="411.5" cy="525.5" r="2" fill="#9894c6" stroke="#1c1c1c" stroke-width="1.5"/>
<circle cx="409.4" cy="529.4" r="1.5" fill="#9894c6" stroke="#1c1c1c" stroke-width="1.5"/>
<circle cx="324.8" cy="512.3" r="3" fill="#e07c7a" stroke="#1c1c1c" stroke-width="1.5"/>
<circle cx="322.5" cy="517.2" r="2.2" fill="#e07c7a" stroke="#1c1c1c" stroke-width="1.5"/>
<circle cx="341.3" cy="518.5" r="4.2" fill="#e07c7a" stroke="#1c1c1c" stroke-width="1.5"/>
<circle cx="345.5" cy="520.4" r="2.5" fill="#e07c7a" stroke="#1c1c1c" stroke-width="1.5"/>
<circle cx="332.2" cy="524" r="2.2" fill="#e07c7a" stroke="#1c1c1c" stroke-width="1.5"/>
<circle cx="336.4" cy="527.5" r="1.8" fill="#e07c7a" stroke="#1c1c1c" stroke-width="1.5"/>
<circle cx="343.8" cy="524.2" r="1.8" fill="#e07c7a" stroke="#1c1c1c" stroke-width="1.5"/>
<circle cx="347" cy="525.7" r="1.5" fill="#e07c7a" stroke="#1c1c1c" stroke-width="1.5"/>
<circle cx="341.7" cy="531.9" r="2.5" fill="#e07c7a" stroke="#1c1c1c" stroke-width="1.5"/>
<circle cx="335.4" cy="532.3" r="3" fill="#e07c7a" stroke="#1c1c1c" stroke-width="1.5"/>
<circle cx="324.4" cy="530.2" r="2" fill="#e07c7a" stroke="#1c1c1c" stroke-width="1.5"/>
<circle cx="325.2" cy="536.2" r="2.5" fill="#e07c7a" stroke="#1c1c1c" stroke-width="1.5"/>
<circle cx="329" cy="541.4" r="3.5" fill="#e07c7a" stroke="#1c1c1c" stroke-width="1.5"/>
<circle cx="332.2" cy="543.6" r="2.5" fill="#e07c7a" stroke="#1c1c1c" stroke-width="1.5"/>
<circle cx="328" cy="551.4" r="3" fill="#e07c7a" stroke="#1c1c1c" stroke-width="1.5"/>
<circle cx="335" cy="552.7" r="3.5" fill="#e07c7a" stroke="#1c1c1c" stroke-width="1.5"/>
<circle cx="340" cy="548.8" r="3.5" fill="#e07c7a" stroke="#1c1c1c" stroke-width="1.5"/>
<circle cx="331.2" cy="565.3" r="3.5" fill="#e07c7a" stroke="#1c1c1c" stroke-width="1.5"/>
<circle cx="355.1" cy="588" r="3.5" fill="#c4a024" stroke="#1c1c1c" stroke-width="1.5"/>
<circle cx="384" cy="553.5" r="3.5" fill="#7cb070" stroke="#1c1c1c" stroke-width="1.5"/>
<circle cx="388.7" cy="553.5" r="3.5" fill="#84b6d6" stroke="#1c1c1c" stroke-width="1.5"/>
<circle cx="395.7" cy="553.5" r="4.3" fill="#7ca0d2" stroke="#1c1c1c" stroke-width="1.5"/>
<circle cx="399.9" cy="560.1" r="3.5" fill="#7ca0d2" stroke="#1c1c1c" stroke-width="1.5"/>
<circle cx="392.5" cy="541.4" r="3.5" fill="#7ca0d2" stroke="#1c1c1c" stroke-width="1.5"/>
<circle cx="396.7" cy="542.1" r="3.5" fill="#7ca0d2" stroke="#1c1c1c" stroke-width="1.5"/>
<circle cx="399.9" cy="540.4" r="3.5" fill="#7ca0d2" stroke="#1c1c1c" stroke-width="1.5"/>
<circle cx="404.1" cy="538.3" r="4.4" fill="#7ca0d2" stroke="#1c1c1c" stroke-width="1.5"/>
<circle cx="406.3" cy="548.8" r="4.2" fill="#7ca0d2" stroke="#1c1c1c" stroke-width="1.5"/>
<circle cx="429" cy="481.3" r="3" fill="#7cb070" stroke="#1c1c1c" stroke-width="1.5"/>
<circle cx="433.7" cy="483.4" r="3" fill="#7cb070" stroke="#1c1c1c" stroke-width="1.5"/>
<circle cx="428" cy="487.6" r="3" fill="#7cb070" stroke="#1c1c1c" stroke-width="1.5"/>
<circle cx="444.3" cy="515.5" r="3.5" fill="#64b6a4" stroke="#1c1c1c" stroke-width="1.5"/>
<circle cx="452.3" cy="516.2" r="3.5" fill="#64b6a4" stroke="#1c1c1c" stroke-width="1.5"/>
<circle cx="467.1" cy="521.6" r="3.8" fill="#7c86c8" stroke="#1c1c1c" stroke-width="1.5"/>
<circle cx="461.2" cy="539.3" r="3.5" fill="#7c86c8" stroke="#1c1c1c" stroke-width="1.5"/>
<circle cx="485.7" cy="542.9" r="3.5" fill="#a07ca4" stroke="#1c1c1c" stroke-width="1.5"/>
<circle cx="458.2" cy="553.1" r="4.2" fill="#64b6a4" stroke="#1c1c1c" stroke-width="1.5"/>
<circle cx="479.2" cy="557.7" r="3.5" fill="#a07ca4" stroke="#1c1c1c" stroke-width="1.5"/>
<circle cx="479.8" cy="569.4" r="3.5" fill="#a07ca4" stroke="#1c1c1c" stroke-width="1.5"/>
<circle cx="467.1" cy="579.5" r="4.5" fill="#7c86c8" stroke="#1c1c1c" stroke-width="1.5"/>
<circle cx="411.7" cy="525.7" r="2" fill="#555" stroke="#1c1c1c" stroke-width="1.5"/>
<line x1="46" y1="613.4" x2="513" y2="613.4" stroke="#222" stroke-width="1.6"/>
<line x1="47.5" y1="629.3" x2="512.5" y2="629.3" stroke="#222" stroke-width="1.5"/>
<line x1="47.5" y1="661.2" x2="512.5" y2="661.2" stroke="#222" stroke-width="1.5"/>
<line x1="47.5" y1="685.8" x2="512.5" y2="685.8" stroke="#222" stroke-width="1.5"/>
<line x1="226.7" y1="613" x2="226.7" y2="686" stroke="#222" stroke-width="1.3" stroke-dasharray="2.6,1.8"/>
<line x1="418.9" y1="613" x2="418.9" y2="686" stroke="#222" stroke-width="1.3" stroke-dasharray="2.6,1.8"/>
<line x1="294.5" y1="613" x2="285.4" y2="629" stroke="#222" stroke-width="1.3" stroke-dasharray="2.6,1.8"/>
<line x1="322.8" y1="613" x2="330.2" y2="629" stroke="#222" stroke-width="1.3" stroke-dasharray="2.6,1.8"/>
<line x1="285.4" y1="629.3" x2="285.4" y2="686" stroke="#222" stroke-width="1.3" stroke-dasharray="2.6,1.8"/>
<line x1="330.2" y1="629.3" x2="330.2" y2="686" stroke="#222" stroke-width="1.3" stroke-dasharray="2.6,1.8"/>
<text x="40.50" y="625.30" font-size="8" text-anchor="end" fill="#333" >Category</text>
<text x="40.50" y="647.70" font-size="8" text-anchor="end" fill="#333" >Class</text>
<text x="38.80" y="672.30" font-size="8" text-anchor="end" fill="#333" >-Log<tspan font-size="6.2" dy="1.3">10</tspan></text>
<text x="40.20" y="681.30" font-size="8" text-anchor="end" fill="#333" >p-Value</text>
<text x="92.00" y="625.40" font-size="7.6" text-anchor="start" fill="#333"  textLength="78.2" lengthAdjust="spacingAndGlyphs">Glycerophospholipids</text>
<text x="232.70" y="625.40" font-size="7.6" text-anchor="start" fill="#333"  textLength="46.3" lengthAdjust="spacingAndGlyphs">Glycerolipids</text>
<text x="352.10" y="625.50" font-size="7.6" text-anchor="start" fill="#333"  textLength="48.1" lengthAdjust="spacingAndGlyphs">Sphingolipids</text>
<text x="423.75" y="625.40" font-size="7.6" text-anchor="start" fill="#333"  textLength="68.75" lengthAdjust="spacingAndGlyphs">FFA and Mediators</text>
<text x="308.00" y="621.30" font-size="7.4" text-anchor="middle" fill="#333" >Chol.&amp;</text>
<text x="308.00" y="626.60" font-size="7.4" text-anchor="middle" fill="#333"  textLength="38.6" lengthAdjust="spacingAndGlyphs">derivatives</text>
<circle cx="49.5" cy="636.2" r="1.45" fill="#555" stroke="#1a1a1a" stroke-width="1"/>
<text x="54.50" y="638.90" font-size="7.5" text-anchor="start" fill="#333" >CL</text>
<circle cx="49.5" cy="644.7" r="1.45" fill="#555" stroke="#1a1a1a" stroke-width="1"/>
<text x="54.50" y="647.40" font-size="7.5" text-anchor="start" fill="#333" >LPA</text>
<circle cx="49.5" cy="653.2" r="1.45" fill="#555" stroke="#1a1a1a" stroke-width="1"/>
<text x="54.50" y="655.90" font-size="7.5" text-anchor="start" fill="#333" >LPC</text>
<circle cx="72.5" cy="636.2" r="1.45" fill="#555" stroke="#1a1a1a" stroke-width="1"/>
<text x="77.50" y="638.90" font-size="7.5" text-anchor="start" fill="#333" >LPE</text>
<circle cx="72.5" cy="644.7" r="1.45" fill="#555" stroke="#1a1a1a" stroke-width="1"/>
<text x="77.50" y="647.40" font-size="7.5" text-anchor="start" fill="#333" >LPI</text>
<circle cx="72.5" cy="653.2" r="1.45" fill="#555" stroke="#1a1a1a" stroke-width="1"/>
<text x="77.50" y="655.90" font-size="7.5" text-anchor="start" fill="#333" >PA</text>
<circle cx="94.5" cy="636.2" r="1.45" fill="#555" stroke="#1a1a1a" stroke-width="1"/>
<text x="100.00" y="638.90" font-size="7.5" text-anchor="start" fill="#333" >PC</text>
<circle cx="94.5" cy="644.7" r="1.45" fill="#555" stroke="#1a1a1a" stroke-width="1"/>
<text x="100.00" y="647.40" font-size="7.5" text-anchor="start" fill="#333" >PC P/O</text>
<circle cx="94.5" cy="653.2" r="1.45" fill="#555" stroke="#1a1a1a" stroke-width="1"/>
<text x="100.00" y="655.90" font-size="7.5" text-anchor="start" fill="#333" >PE</text>
<circle cx="130" cy="636.2" r="1.45" fill="#555" stroke="#1a1a1a" stroke-width="1"/>
<text x="135.00" y="638.90" font-size="7.5" text-anchor="start" fill="#333" >PE P/O</text>
<circle cx="130" cy="644.7" r="1.45" fill="#555" stroke="#1a1a1a" stroke-width="1"/>
<text x="135.00" y="647.40" font-size="7.5" text-anchor="start" fill="#333" >PG</text>
<circle cx="130" cy="653.2" r="1.45" fill="#555" stroke="#1a1a1a" stroke-width="1"/>
<text x="135.00" y="655.90" font-size="7.5" text-anchor="start" fill="#333" >PI</text>
<circle cx="163" cy="636.2" r="1.45" fill="#555" stroke="#1a1a1a" stroke-width="1"/>
<text x="168.00" y="638.90" font-size="7.5" text-anchor="start" fill="#333" >PS</text>
<circle cx="240.8" cy="636.2" r="1.45" fill="#555" stroke="#1a1a1a" stroke-width="1"/>
<text x="245.60" y="638.90" font-size="7.5" text-anchor="start" fill="#333" >DAG</text>
<circle cx="240.8" cy="644.7" r="1.45" fill="#555" stroke="#1a1a1a" stroke-width="1"/>
<text x="245.60" y="647.40" font-size="7.5" text-anchor="start" fill="#333" >TAG</text>
<circle cx="289.5" cy="636.2" r="1.45" fill="#555" stroke="#1a1a1a" stroke-width="1"/>
<text x="294.25" y="638.90" font-size="7.5" text-anchor="start" fill="#333" >ChoE</text>
<circle cx="289.5" cy="644.7" r="1.45" fill="#555" stroke="#1a1a1a" stroke-width="1"/>
<text x="294.25" y="647.40" font-size="7.5" text-anchor="start" fill="#333" >Choles-</text>
<circle cx="333" cy="636.2" r="1.45" fill="#555" stroke="#1a1a1a" stroke-width="1"/>
<text x="338.00" y="638.90" font-size="7.5" text-anchor="start" fill="#333" >Cer</text>
<circle cx="333" cy="644.7" r="1.45" fill="#555" stroke="#1a1a1a" stroke-width="1"/>
<text x="338.00" y="647.40" font-size="7.5" text-anchor="start" fill="#333" >DiHexCer</text>
<circle cx="333" cy="653.2" r="1.45" fill="#555" stroke="#1a1a1a" stroke-width="1"/>
<text x="338.00" y="655.90" font-size="7.5" text-anchor="start" fill="#333" >HexCer</text>
<circle cx="373" cy="636.2" r="1.45" fill="#555" stroke="#1a1a1a" stroke-width="1"/>
<text x="378.25" y="638.90" font-size="7.5" text-anchor="start" fill="#333" >S1P</text>
<circle cx="373" cy="644.7" r="1.45" fill="#555" stroke="#1a1a1a" stroke-width="1"/>
<text x="378.25" y="647.40" font-size="7.5" text-anchor="start" fill="#333" >Sa</text>
<circle cx="373" cy="653.2" r="1.45" fill="#555" stroke="#1a1a1a" stroke-width="1"/>
<text x="378.25" y="655.90" font-size="7.5" text-anchor="start" fill="#333" >Sa1P</text>
<circle cx="398.75" cy="636.2" r="1.45" fill="#555" stroke="#1a1a1a" stroke-width="1"/>
<text x="403.75" y="638.90" font-size="7.5" text-anchor="start" fill="#333" >SM</text>
<circle cx="398.75" cy="644.7" r="1.45" fill="#555" stroke="#1a1a1a" stroke-width="1"/>
<text x="403.75" y="647.40" font-size="7.5" text-anchor="start" fill="#333" >So</text>
<circle cx="398.75" cy="653.2" r="1.45" fill="#555" stroke="#1a1a1a" stroke-width="1"/>
<text x="403.75" y="655.90" font-size="7.5" text-anchor="start" fill="#333" >SPC</text>
<circle cx="422.5" cy="636.2" r="1.45" fill="#555" stroke="#1a1a1a" stroke-width="1"/>
<text x="426.25" y="638.90" font-size="7.5" text-anchor="start" fill="#333" >Docosanoid</text>
<circle cx="422.5" cy="644.7" r="1.45" fill="#555" stroke="#1a1a1a" stroke-width="1"/>
<text x="426.25" y="647.40" font-size="7.5" text-anchor="start" fill="#333" >Docosanoid<tspan font-size="4.5" dy="-3">*</tspan></text>
<circle cx="422.5" cy="653.2" r="1.45" fill="#555" stroke="#1a1a1a" stroke-width="1"/>
<text x="426.25" y="655.90" font-size="7.5" text-anchor="start" fill="#333" >Eicosanoid</text>
<circle cx="470.5" cy="636.2" r="1.45" fill="#555" stroke="#1a1a1a" stroke-width="1"/>
<text x="474.50" y="638.90" font-size="7.5" text-anchor="start" fill="#333" >Eicosanoid<tspan font-size="4.5" dy="-3">*</tspan></text>
<circle cx="470.5" cy="644.7" r="1.45" fill="#555" stroke="#1a1a1a" stroke-width="1"/>
<text x="474.50" y="647.40" font-size="7.5" text-anchor="start" fill="#333" >FFA</text>
<circle cx="470.5" cy="653.2" r="1.45" fill="#555" stroke="#1a1a1a" stroke-width="1"/>
<text x="474.50" y="655.90" font-size="7.5" text-anchor="start" fill="#333" >FFA<tspan font-size="4.5" dy="-3">*</tspan></text>
<text x="294.25" y="655.90" font-size="7.5" text-anchor="start" fill="#333" >terol</text>
<circle cx="83.75" cy="669" r="0.8" fill="#cabea0"/>
<text x="83.75" y="684.00" font-size="7.8" text-anchor="middle" fill="#333" >0</text>
<circle cx="94.25" cy="669" r="3.6" fill="#cabea0"/>
<text x="94.25" y="684.00" font-size="7.8" text-anchor="middle" fill="#333" >3</text>
<circle cx="105" cy="669" r="4.5" fill="#cabea0"/>
<text x="105.00" y="684.00" font-size="7.8" text-anchor="middle" fill="#333" >6</text>
<circle cx="117.5" cy="669" r="5.4" fill="#cabea0"/>
<text x="117.50" y="684.00" font-size="7.8" text-anchor="middle" fill="#333" >9</text>
<circle cx="132" cy="669" r="6.3" fill="#cabea0"/>
<text x="132.00" y="684.00" font-size="7.8" text-anchor="middle" fill="#333" >12</text>
<circle cx="236.2" cy="669" r="0.8" fill="#cabea0"/>
<text x="236.20" y="684.00" font-size="7.8" text-anchor="middle" fill="#333" >0</text>
<circle cx="246.2" cy="669" r="3.5" fill="#cabea0"/>
<text x="246.20" y="684.00" font-size="7.8" text-anchor="middle" fill="#333" >3</text>
<circle cx="257.5" cy="669" r="4.5" fill="#cabea0"/>
<text x="257.50" y="684.00" font-size="7.8" text-anchor="middle" fill="#333" >6</text>
<circle cx="269.9" cy="669" r="5.4" fill="#cabea0"/>
<text x="269.90" y="684.00" font-size="7.8" text-anchor="middle" fill="#333" >9</text>
<circle cx="288.75" cy="669" r="0.8" fill="#cabea0"/>
<text x="288.75" y="684.00" font-size="7.8" text-anchor="middle" fill="#333" >0</text>
<circle cx="298.75" cy="669" r="3.5" fill="#cabea0"/>
<text x="298.75" y="684.00" font-size="7.8" text-anchor="middle" fill="#333" >1</text>
<circle cx="309.5" cy="669" r="4.5" fill="#cabea0"/>
<text x="309.50" y="684.00" font-size="7.8" text-anchor="middle" fill="#333" >2</text>
<circle cx="322.5" cy="669" r="5.5" fill="#cabea0"/>
<text x="322.50" y="684.00" font-size="7.8" text-anchor="middle" fill="#333" >3</text>
<circle cx="372.5" cy="669" r="0.8" fill="#cabea0"/>
<text x="372.50" y="684.00" font-size="7.8" text-anchor="middle" fill="#333" >0</text>
<circle cx="383" cy="669" r="3.5" fill="#cabea0"/>
<text x="383.00" y="684.00" font-size="7.8" text-anchor="middle" fill="#333" >2</text>
<circle cx="394.5" cy="669" r="4.5" fill="#cabea0"/>
<text x="394.50" y="684.00" font-size="7.8" text-anchor="middle" fill="#333" >4</text>
<circle cx="407.5" cy="669" r="5.5" fill="#cabea0"/>
<text x="407.50" y="684.00" font-size="7.8" text-anchor="middle" fill="#333" >6</text>
<circle cx="435" cy="669" r="0.8" fill="#cabea0"/>
<text x="435.00" y="684.00" font-size="7.8" text-anchor="middle" fill="#333" >0</text>
<circle cx="445.5" cy="669" r="3.2" fill="#cabea0"/>
<text x="445.50" y="684.00" font-size="7.8" text-anchor="middle" fill="#333" >1</text>
<circle cx="456.25" cy="669" r="4.2" fill="#cabea0"/>
<text x="456.25" y="684.00" font-size="7.8" text-anchor="middle" fill="#333" >2</text>
<circle cx="468.25" cy="669" r="5" fill="#cabea0"/>
<text x="468.25" y="684.00" font-size="7.8" text-anchor="middle" fill="#333" >3</text>
<circle cx="482.5" cy="669" r="5.8" fill="#cabea0"/>
<text x="482.50" y="684.00" font-size="7.8" text-anchor="middle" fill="#333" >4</text>
<rect x="0.6" y="0.6" width="518.6" height="691.4" fill="none" stroke="#000" stroke-width="1.4"/>
</svg>
</body></html>
